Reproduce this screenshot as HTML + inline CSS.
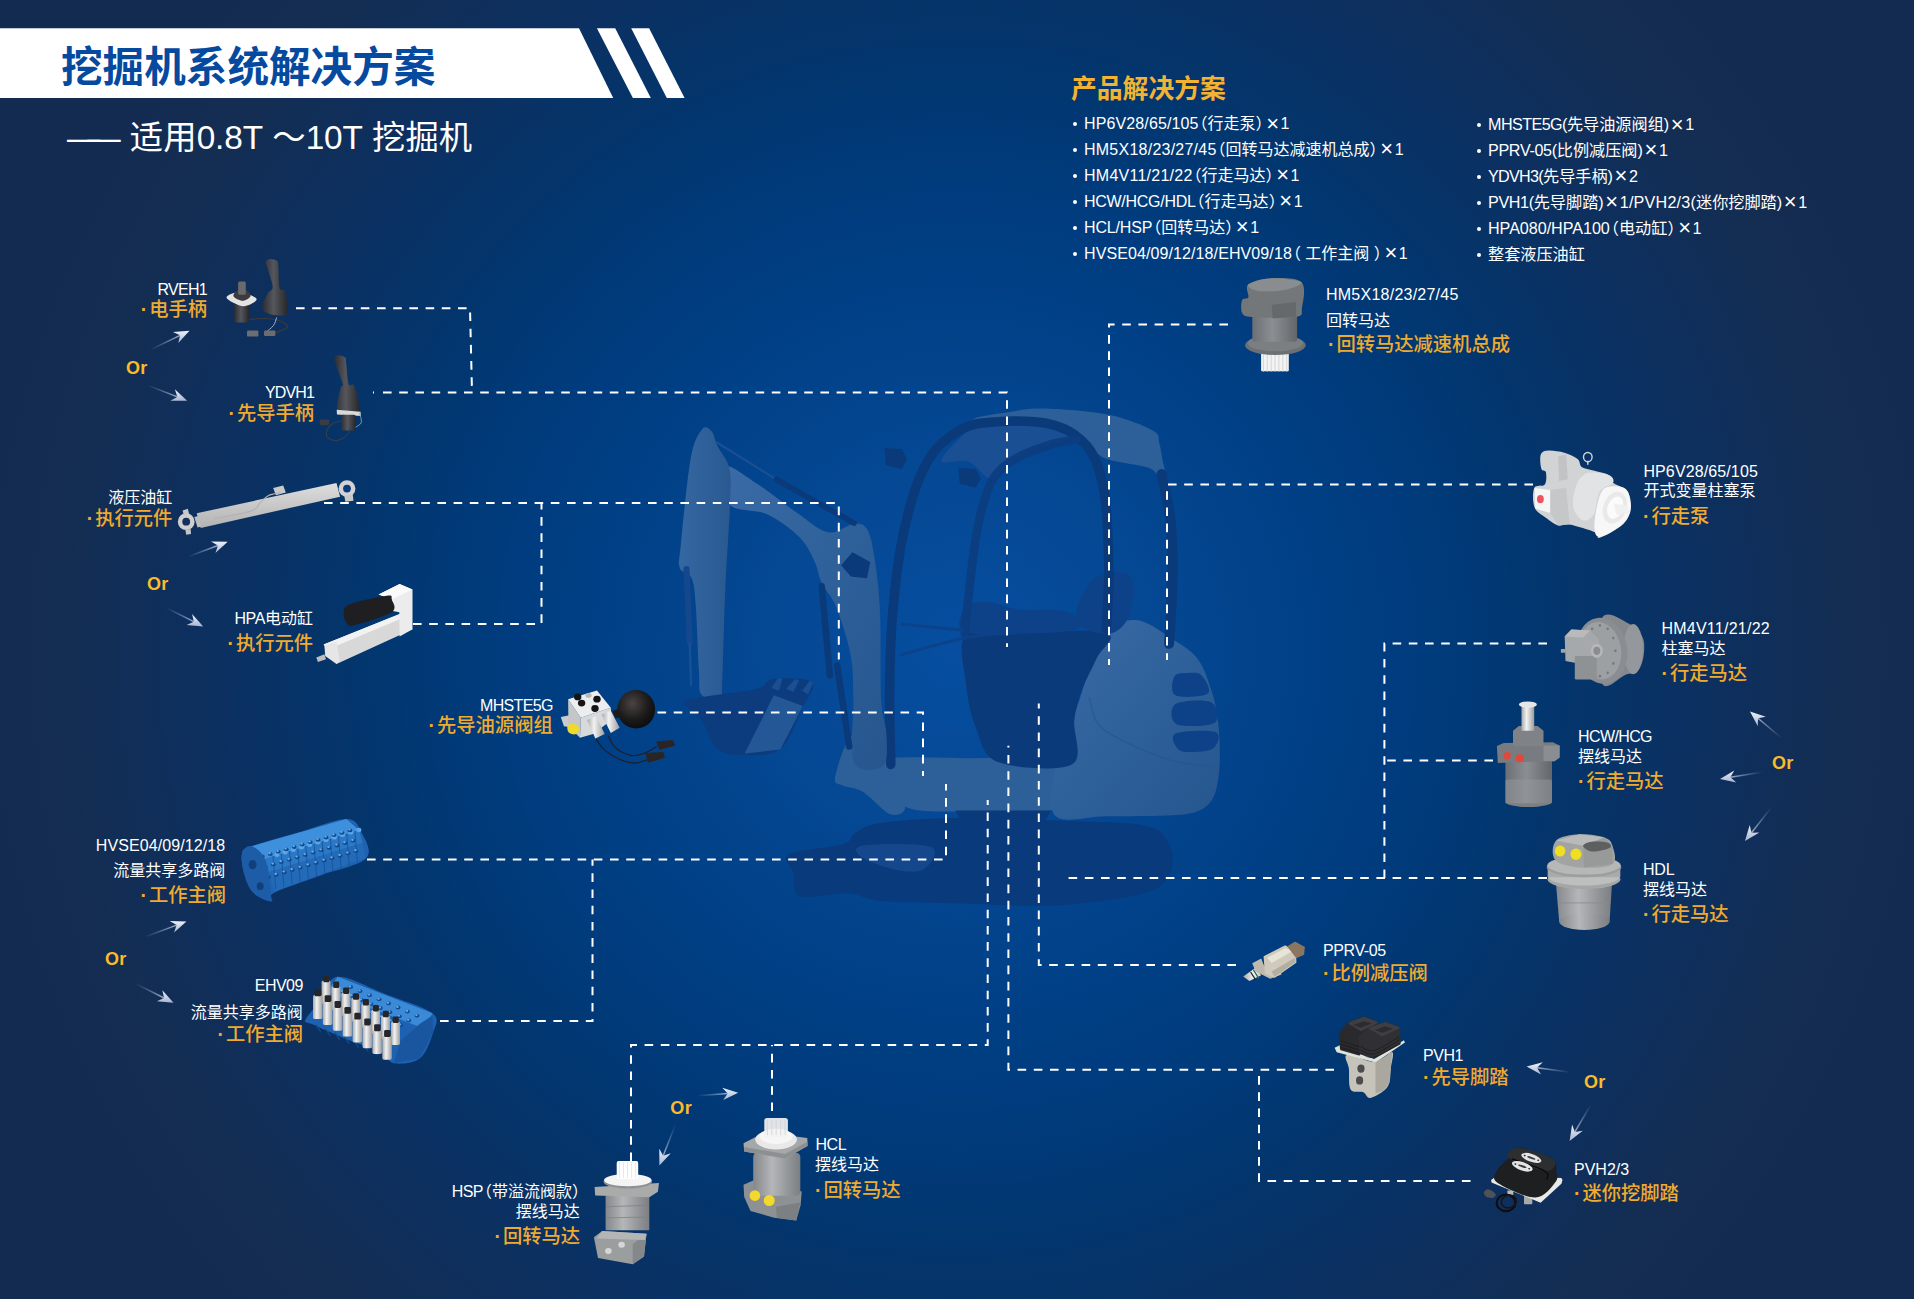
<!DOCTYPE html>
<html lang="zh-CN">
<head>
<meta charset="utf-8">
<title>挖掘机系统解决方案</title>
<style>
html,body{margin:0;padding:0;background:#142b51;}
body{width:1914px;height:1299px;overflow:hidden;font-family:"Liberation Sans","Noto Sans CJK SC",sans-serif;}
#page{position:relative;width:1914px;height:1299px;overflow:hidden;
 background:radial-gradient(circle 1000px at 957px 650px, #064ea0 0%, #054894 18.4%, #004086 35.5%, #003c7e 45.7%, #02366e 59%, #0c3060 74.5%, #142d52 89.7%, #142b51 100%);}
svg.layer{position:absolute;left:0;top:0;width:1914px;height:1299px;overflow:visible}
.t{position:absolute;white-space:nowrap;line-height:0;}
h2 .ds{letter-spacing:-13.2px;margin-right:13.2px}
.t.g .d{font-weight:700;margin-right:2px}
.t.w{font-size:16px;color:#fff;font-weight:400}
.t.g{font-size:19.3px;color:#f0ab2e;font-weight:500}
.t.o{font-size:18px;color:#fbbb2a;font-weight:700}
#banner{position:absolute;left:0;top:28px;width:690px;height:70px}
h1{position:absolute;margin:0;left:61px;top:38.6px;font-size:41.6px;line-height:58px;font-weight:700;color:#054a9f;white-space:nowrap;letter-spacing:0}
h2{position:absolute;margin:0;left:67px;top:114.3px;font-size:33.4px;line-height:48px;font-weight:400;color:#fff;white-space:nowrap}
h3{position:absolute;margin:0;left:1071px;top:71.3px;font-size:25.8px;line-height:36px;font-weight:700;color:#f4b233;white-space:nowrap}
ul.pl{position:absolute;margin:0;padding:0;list-style:none;font-size:16px;color:#fff;line-height:25.9px;white-space:nowrap}
ul.pl li{position:relative;padding-left:11px}
ul.pl li::before{content:"";position:absolute;left:0;top:11px;width:4px;height:4px;border-radius:2px;background:#fff}
span.x{display:inline-block;width:16px;text-align:center;font-size:22px;line-height:0;position:relative;top:1.5px}
span.pl{margin-left:-7px}
span.pr{margin-right:-7px}
</style>
</head>
<body>
<div id="page">


<svg class="layer" id="exc" viewBox="0 0 1914 1299">
<defs><linearGradient id="xl" x1="0" y1="0" x2="1" y2="1"><stop offset="0" stop-color="#3a6ba6"/><stop offset=".55" stop-color="#2d5f98"/><stop offset="1" stop-color="#27568e"/></linearGradient><linearGradient id="xv" x1="0" y1="0" x2="1" y2="0"><stop offset="0" stop-color="#3567a2"/><stop offset="1" stop-color="#295990"/></linearGradient></defs>
<path d="M788.8,854.4 C796.9,849.6 831.6,847.9 842.7,844.3 C853.8,840.8 849.0,836.6 855.2,833.0 C861.5,829.5 863.6,825.5 880.3,823.0 C897.0,820.5 926.3,818.4 955.5,818.0 C984.8,817.6 1024.5,819.2 1055.9,820.5 C1087.2,821.8 1124.8,821.8 1143.6,825.5 C1162.4,829.3 1164.3,835.1 1168.7,843.1 C1173.1,851.0 1174.1,864.8 1170.0,873.2 C1165.8,881.5 1162.7,887.9 1143.6,893.2 C1124.6,898.6 1087.2,903.6 1055.9,905.3 C1024.5,906.9 984.8,904.0 955.5,903.3 C926.3,902.5 898.3,902.4 880.3,900.8 C862.3,899.1 861.1,894.0 847.7,893.2 C834.3,892.5 809.0,899.6 800.1,896.2 C791.1,892.9 795.7,880.1 793.8,873.2 C791.9,866.2 780.6,859.2 788.8,854.4Z" fill="#0a3a7a" opacity=".92"/>
<path d="M862.8,845.6 C874.0,843.7 920.0,843.1 930.5,846.8 C940.9,850.6 930.5,864.2 925.5,868.2 C920.4,872.1 910.8,872.3 900.4,870.7 C889.9,869.0 869.0,862.3 862.8,858.1 C856.5,853.9 851.5,847.5 862.8,845.6Z" fill="#14478c" />
<path d="M835.2,776.6 C836.8,768.3 844.4,741.3 852.7,735.2 C861.1,729.2 878.6,733.1 885.3,740.3 C892.0,747.4 889.5,766.8 892.9,777.9 C896.2,788.9 905.8,800.6 905.4,806.7 C905.0,812.8 897.5,816.7 890.3,814.2 C883.2,811.7 870.7,796.5 862.8,791.7 C854.8,786.9 847.3,787.9 842.7,785.4 C838.1,782.9 833.5,785.0 835.2,776.6Z" fill="#2d5f98" />
<path d="M887.8,759.1 C901.2,755.8 943.4,758.2 970.6,758.3 C997.8,758.4 1037.1,755.3 1050.8,759.8 C1064.6,764.3 1053.1,777.0 1053.4,785.4 C1053.6,793.8 1064.2,805.7 1052.1,810.0 C1040.0,814.2 1002.6,810.9 980.6,811.0 C958.7,811.1 934.2,812.2 920.4,810.5 C906.6,808.7 902.9,805.9 897.9,800.4 C892.9,795.0 892.0,784.8 890.3,777.9 C888.7,771.0 874.5,762.3 887.8,759.1Z" fill="#2d5f98" />
<polygon points="955.5,810.5 1050.8,810.5 1045.8,820.5 960.6,820.5" fill="#0a3a7a" />
<path d="M1106.3,630.3 C1111.6,622.1 1114.9,623.1 1121.1,621.7 C1127.2,620.2 1135.0,619.0 1143.3,621.7 C1151.5,624.3 1161.3,631.5 1170.3,637.7 C1179.4,643.8 1190.5,649.4 1197.4,658.6 C1204.4,667.9 1208.7,682.0 1212.2,693.1 C1215.7,704.2 1217.1,713.2 1218.4,725.1 C1219.6,737.0 1220.2,753.0 1219.6,764.5 C1219.0,776.0 1217.6,786.7 1214.7,794.1 C1211.8,801.5 1208.9,805.4 1202.4,808.9 C1195.8,812.4 1191.3,813.8 1175.3,815.0 C1159.3,816.3 1126.2,816.1 1106.3,816.3 C1086.4,816.5 1064.4,824.1 1055.8,816.3 C1047.2,808.5 1051.5,786.3 1054.6,769.5 C1057.7,752.6 1068.5,731.7 1074.3,715.3 C1080.0,698.9 1083.7,685.1 1089.1,670.9 C1094.4,656.8 1101.0,638.5 1106.3,630.3Z" fill="url(#xl)" />
<path d="M1174.4,676.4 C1176.6,672.7 1184.0,673.3 1188.4,673.1 C1192.9,673.0 1198.1,671.9 1201.4,675.3 C1204.6,678.7 1212.2,690.3 1207.8,693.6 C1203.5,697.0 1181.1,698.2 1175.5,695.3 C1169.9,692.5 1172.3,680.1 1174.4,676.4Z" fill="#0d4188" />
<path d="M1175.5,704.0 C1181.3,700.3 1204.5,699.1 1211.1,702.2 C1217.6,705.4 1220.5,719.1 1214.7,722.7 C1209.0,726.4 1183.1,727.3 1176.6,724.2 C1170.1,721.1 1169.8,707.6 1175.5,704.0Z" fill="#0d4188" />
<path d="M1175.5,733.5 C1181.6,730.5 1208.9,729.6 1215.4,732.0 C1221.9,734.3 1217.4,744.2 1214.3,747.5 C1211.3,750.8 1203.0,751.5 1197.1,751.8 C1191.1,752.2 1182.3,752.7 1178.8,749.7 C1175.2,746.6 1169.4,736.4 1175.5,733.5Z" fill="#0d4188" />
<path d="M1089.3,697.9 C1090.7,702.2 1092.2,716.6 1097.9,723.8 C1103.7,731.0 1111.6,734.9 1123.8,741.0 C1136.0,747.1 1155.8,756.1 1171.2,760.4 C1186.7,764.7 1208.9,765.8 1216.5,766.9" stroke="#27568e" stroke-width="1.2" fill="none" stroke-linecap="round" stroke-linejoin="round" opacity="0.8"/>
<path d="M965.9,635.2 C974.5,626.8 994.2,633.2 1017.6,632.8 C1041.0,632.3 1093.2,628.4 1106.3,632.8 C1119.4,637.1 1100.6,649.0 1096.5,658.6 C1092.3,668.3 1085.4,680.4 1081.7,690.6 C1078.0,700.9 1075.9,707.9 1074.3,720.2 C1072.6,732.5 1084.5,757.6 1071.8,764.5 C1059.1,771.5 1013.9,768.2 997.9,762.1 C981.9,755.9 981.1,740.7 975.8,727.6 C970.4,714.4 967.6,698.6 965.9,683.3 C964.3,667.9 957.3,643.6 965.9,635.2Z" fill="#0a3a7a" />
<path d="M1076.7,621.7 C1073.5,613.9 1081.7,595.2 1086.6,587.2 C1091.5,579.2 1099.3,575.7 1106.3,573.6 C1113.3,571.6 1124.0,571.8 1128.5,574.9 C1133.0,578.0 1133.8,584.3 1133.4,592.1 C1133.0,599.9 1130.5,614.7 1126.0,621.7 C1121.5,628.7 1114.5,634.0 1106.3,634.0 C1098.1,634.0 1080.0,629.5 1076.7,621.7Z" fill="#0d4188" />
<path d="M963.4,631.5 C954.8,627.0 961.8,611.8 965.9,606.9 C970.0,602.0 979.5,601.6 988.1,602.0 C996.7,602.4 1004.5,607.7 1017.6,609.4 C1030.8,611.0 1057.0,608.5 1066.9,611.8 C1076.7,615.1 1085.0,625.4 1076.7,629.1 C1068.5,632.8 1036.5,633.6 1017.6,634.0 C998.8,634.4 972.1,636.0 963.4,631.5Z" fill="#0d4188" />
<path d="M941.3,461.6 C939.6,457.9 952.4,445.4 958.5,439.4 C964.7,433.5 969.2,428.7 978.2,425.9 C987.3,423.1 1001.2,422.9 1012.7,422.7 C1024.2,422.5 1036.9,422.5 1047.2,424.6 C1057.5,426.8 1076.7,431.6 1074.3,435.7 C1071.8,439.8 1043.5,444.5 1032.4,449.3 C1021.3,454.0 1014.8,459.1 1007.8,464.0 C1000.8,469.0 997.1,479.2 990.5,478.8 C984.0,478.4 976.6,464.4 968.4,461.6 C960.2,458.7 942.9,465.3 941.3,461.6Z" fill="#1a5093" />
<path d="M974.5,418.5 C979.0,416.2 996.5,414.0 1007.8,412.3 C1019.1,410.7 1025.4,408.2 1042.3,408.6 C1059.1,409.0 1090.3,411.1 1108.8,414.8 C1127.2,418.5 1144.7,426.1 1153.1,430.8 C1161.5,435.5 1157.5,437.6 1159.3,443.1 C1161.0,448.6 1162.0,457.7 1163.4,464.0 C1164.9,470.4 1168.6,479.1 1167.9,481.3 C1167.2,483.4 1162.5,479.1 1159.3,476.8 C1156.0,474.6 1156.2,470.5 1148.2,467.7 C1140.2,465.0 1119.9,462.8 1111.2,460.3 C1102.6,457.9 1102.2,456.9 1096.5,453.0 C1090.7,449.1 1085.0,441.7 1076.7,436.9 C1068.5,432.2 1057.9,427.0 1047.2,424.6 C1036.5,422.2 1023.8,422.4 1012.7,422.7 C1001.6,422.9 987.1,426.8 980.7,426.1 C974.3,425.4 970.0,420.8 974.5,418.5Z" fill="#2d5f98" />
<path d="M890.8,764.5 C890.6,753.0 889.4,719.4 889.6,695.6 C889.8,671.8 890.2,646.3 892.0,621.7 C893.9,597.0 896.7,570.0 900.6,547.8 C904.5,525.6 909.9,504.7 915.4,488.7 C921.0,472.7 926.7,461.4 933.9,451.7 C941.1,442.1 951.1,435.5 958.5,430.8 C965.9,426.1 974.9,424.6 978.2,423.4" stroke="#0a3a7a" stroke-width="9.5" fill="none" stroke-linecap="round" stroke-linejoin="round" opacity="1"/>
<path d="M978.2,423.4 C984.0,423.0 1001.2,420.9 1012.7,420.9 C1024.2,420.9 1036.9,421.1 1047.2,423.4 C1057.5,425.7 1066.5,428.9 1074.3,434.5 C1082.1,440.0 1088.9,446.0 1094.0,456.7 C1099.1,467.3 1102.6,479.2 1105.1,498.5 C1107.5,517.8 1108.6,550.7 1108.8,572.4 C1109.0,594.2 1106.7,619.6 1106.3,629.1" stroke="#0a3a7a" stroke-width="9.5" fill="none" stroke-linecap="round" stroke-linejoin="round" opacity="1"/>
<path d="M964.7,634.0 C966.5,618.0 971.5,563.0 975.8,537.9 C980.1,512.9 984.4,496.7 990.5,483.7 C996.7,470.8 1003.3,466.7 1012.7,460.3 C1022.2,454.0 1036.5,449.1 1047.2,445.6 C1057.9,442.1 1071.8,440.4 1076.7,439.4" stroke="#0c3d80" stroke-width="8.5" fill="none" stroke-linecap="round" stroke-linejoin="round" opacity="0.95"/>
<path d="M1161.7,473.9 C1163.2,482.1 1169.1,504.7 1170.8,523.2 C1172.6,541.6 1172.6,564.6 1172.3,584.7 C1172.0,604.8 1169.6,634.0 1169.1,643.8" stroke="#0a3a7a" stroke-width="10.0" fill="none" stroke-linecap="round" stroke-linejoin="round" opacity="1"/>
<path d="M901.9,624.1 C912.1,625.2 953.2,629.3 963.4,630.3" stroke="#0d4188" stroke-width="3.0" fill="none" stroke-linecap="round" stroke-linejoin="round" opacity="0.9"/>
<path d="M900.6,654.9 C911.5,652.1 946.4,641.4 965.9,637.7 C985.4,634.0 1009.0,633.6 1017.6,632.8" stroke="#0d4188" stroke-width="3.0" fill="none" stroke-linecap="round" stroke-linejoin="round" opacity="0.9"/>
<polygon points="884.6,448.0 901.9,449.3 906.8,459.1 901.9,469.0 885.9,465.3" fill="#0a3a7a" />
<polygon points="958.5,467.7 975.8,469.0 980.7,478.8 975.8,487.4 959.8,483.7" fill="#0a3a7a" />
<path d="M724.7,466.6 C729.3,463.1 745.2,476.2 757.0,483.7 C768.9,491.3 784.0,503.8 795.8,511.9 C807.7,520.0 818.5,530.3 828.2,532.3 C837.9,534.2 847.6,524.4 854.0,523.8 C860.5,523.3 863.6,523.7 867.0,529.0 C870.3,534.3 871.9,542.0 874.1,555.5 C876.3,569.1 878.7,586.3 879.9,610.5 C881.1,634.8 880.1,680.6 881.2,701.1 C882.3,721.6 886.1,722.6 886.4,733.4 C886.7,744.2 888.5,760.9 883.2,765.8 C877.8,770.6 859.0,773.3 854.0,762.5 C849.1,751.7 853.9,718.9 853.4,701.1 C852.9,683.3 853.7,671.4 850.8,655.8 C848.0,640.2 841.1,619.4 836.3,607.3 C831.4,595.2 825.3,590.7 821.7,583.0 C818.1,575.4 818.4,569.1 814.6,561.4 C810.8,553.7 807.0,544.6 799.1,536.8 C791.1,528.9 778.3,519.5 766.7,514.1 C755.1,508.7 736.5,512.4 729.5,504.4 C722.5,496.5 720.1,470.0 724.7,466.6Z" fill="url(#xl)" />
<path d="M702.0,429.4 C705.5,424.9 709.2,428.5 711.7,431.3 C714.3,434.1 714.6,440.0 717.6,446.2 C720.5,452.5 727.5,458.7 729.5,468.9 C731.6,479.0 730.6,487.2 729.9,507.0 C729.2,526.9 726.6,558.2 725.3,587.9 C724.0,617.5 723.0,666.5 722.1,684.9 C721.2,703.3 723.6,696.9 720.2,698.5 C716.7,700.1 705.0,699.6 701.4,694.6 C697.8,689.6 700.1,687.1 698.8,668.7 C697.5,650.4 696.8,601.4 693.6,584.6 C690.5,567.9 682.2,574.9 680.1,568.5 C677.9,562.0 678.9,564.2 680.7,545.8 C682.5,527.5 687.2,477.9 690.7,458.5 C694.3,439.1 698.5,433.9 702.0,429.4Z" fill="url(#xv)" />
<path d="M716.6,442.3 C726.6,448.5 766.5,473.3 776.4,479.5" stroke="#1a5093" stroke-width="2.2" fill="none" stroke-linecap="round" stroke-linejoin="round" opacity="1"/>
<path d="M776.4,479.5 C789.4,486.8 841.1,515.9 854.0,523.2" stroke="#0a3a7a" stroke-width="5.5" fill="none" stroke-linecap="round" stroke-linejoin="round" opacity="1"/>
<path d="M686.5,569.1 C687.1,581.4 689.2,630.6 689.8,642.9" stroke="#14478c" stroke-width="6.0" fill="none" stroke-linecap="round" stroke-linejoin="round" opacity="1"/>
<path d="M689.8,642.9 C690.0,649.9 690.8,677.9 691.0,684.9" stroke="#1a5093" stroke-width="2.5" fill="none" stroke-linecap="round" stroke-linejoin="round" opacity="1"/>
<path d="M821.7,586.3 C823.1,601.1 828.4,660.4 829.8,675.2" stroke="#0a3a7a" stroke-width="6.5" fill="none" stroke-linecap="round" stroke-linejoin="round" opacity="1"/>
<path d="M837.2,665.5 C839.2,679.0 847.2,732.9 849.2,746.4" stroke="#0a3a7a" stroke-width="6.5" fill="none" stroke-linecap="round" stroke-linejoin="round" opacity="1"/>
<polygon points="841.1,565.2 852.4,552.3 870.2,562.0 867.0,578.2 850.8,576.6" fill="#0a3a7a" />
<path d="M684.3,702.7 C684.3,698.8 689.9,699.5 702.0,697.2 C714.2,694.9 745.2,691.8 757.0,688.8 C768.9,685.8 764.0,680.2 773.2,679.1 C782.4,678.0 807.2,677.5 812.0,682.3 C816.9,687.2 807.7,697.0 802.3,708.2 C796.9,719.4 790.4,741.8 779.7,749.6 C768.9,757.3 748.4,755.3 737.6,754.8 C726.8,754.2 720.9,752.1 715.0,746.4 C709.1,740.6 707.2,727.8 702.0,720.5 C696.9,713.2 684.3,706.6 684.3,702.7Z" fill="#0c3c7e" />
<polygon points="773.8,695.3 802.9,705.9 780.3,749.6 744.7,753.5" fill="#245796" />
<polygon points="771.6,688.1 778.0,677.8 782.3,679.1 779.0,690.7" fill="#1a5093" />
<polygon points="786.1,688.8 795.2,679.1 799.1,680.4 793.2,692.0" fill="#1a5093" />
<polygon points="802.3,690.7 809.4,681.0 813.3,682.3 808.1,694.6" fill="#1a5093" />
</svg>
<svg class="layer" id="lines" viewBox="0 0 1914 1299">
<g fill="none" stroke="#fff" stroke-width="2" stroke-dasharray="8.6 7.6">
<path d="M296,308.3 H470 L472,392.4"/>
<path d="M373,392.4 h1 M383,392.4 H1007 V647"/>
<path d="M324,503 H838.8 V659.5"/>
<path d="M413,624 H541.5 V503"/>
<path d="M657.5,712.5 H923 V776"/>
<path d="M367,859.5 H946 V784"/>
<path d="M440,1021 H592.5 V859.5"/>
<path d="M631,1161 V1045 H987.7 V800"/>
<path d="M772,1111 V1045"/>
<path d="M1228,324.5 H1109 V665"/>
<path d="M1533,484.6 H1167 V660"/>
<path d="M1547,643.4 H1384.4 V878"/>
<path d="M1493,760.4 H1384.4"/>
<path d="M1547,878 H1063.7"/>
<path d="M1236,965 H1038.8 V703.6"/>
<path d="M1334,1069.8 H1008.4 V745.7"/>
<path d="M1470.5,1181 H1259 V1070"/>
</g>
<defs><linearGradient id="ah" x1="0" y1="0" x2="0" y2="1"><stop offset="0" stop-color="#eef2f9"/><stop offset="1" stop-color="#a9b6d2"/></linearGradient><linearGradient id="ag0" gradientUnits="userSpaceOnUse" x1="149.7" y1="350.1" x2="189.5" y2="330.7"><stop offset="0" stop-color="#9fb0d6" stop-opacity="0"/><stop offset="1" stop-color="#dbe2f0"/></linearGradient><linearGradient id="ag1" gradientUnits="userSpaceOnUse" x1="147.3" y1="385.1" x2="187.1" y2="400.7"><stop offset="0" stop-color="#9fb0d6" stop-opacity="0"/><stop offset="1" stop-color="#dbe2f0"/></linearGradient><linearGradient id="ag2" gradientUnits="userSpaceOnUse" x1="188.0" y1="556.7" x2="227.7" y2="541.8"><stop offset="0" stop-color="#9fb0d6" stop-opacity="0"/><stop offset="1" stop-color="#dbe2f0"/></linearGradient><linearGradient id="ag3" gradientUnits="userSpaceOnUse" x1="165.8" y1="607.6" x2="203.2" y2="626.4"><stop offset="0" stop-color="#9fb0d6" stop-opacity="0"/><stop offset="1" stop-color="#dbe2f0"/></linearGradient><linearGradient id="ag4" gradientUnits="userSpaceOnUse" x1="144.8" y1="937.0" x2="186.4" y2="921.4"><stop offset="0" stop-color="#9fb0d6" stop-opacity="0"/><stop offset="1" stop-color="#dbe2f0"/></linearGradient><linearGradient id="ag5" gradientUnits="userSpaceOnUse" x1="135.5" y1="983.7" x2="173.5" y2="1002.7"><stop offset="0" stop-color="#9fb0d6" stop-opacity="0"/><stop offset="1" stop-color="#dbe2f0"/></linearGradient><linearGradient id="ag6" gradientUnits="userSpaceOnUse" x1="697.3" y1="1095.8" x2="738.2" y2="1092.7"><stop offset="0" stop-color="#9fb0d6" stop-opacity="0"/><stop offset="1" stop-color="#dbe2f0"/></linearGradient><linearGradient id="ag7" gradientUnits="userSpaceOnUse" x1="675.5" y1="1124.5" x2="659.4" y2="1165.5"><stop offset="0" stop-color="#9fb0d6" stop-opacity="0"/><stop offset="1" stop-color="#dbe2f0"/></linearGradient><linearGradient id="ag8" gradientUnits="userSpaceOnUse" x1="1782.0" y1="738.5" x2="1750.0" y2="711.5"><stop offset="0" stop-color="#9fb0d6" stop-opacity="0"/><stop offset="1" stop-color="#dbe2f0"/></linearGradient><linearGradient id="ag9" gradientUnits="userSpaceOnUse" x1="1763.0" y1="772.0" x2="1720.0" y2="779.0"><stop offset="0" stop-color="#9fb0d6" stop-opacity="0"/><stop offset="1" stop-color="#dbe2f0"/></linearGradient><linearGradient id="ag10" gradientUnits="userSpaceOnUse" x1="1772.0" y1="806.6" x2="1745.0" y2="841.0"><stop offset="0" stop-color="#9fb0d6" stop-opacity="0"/><stop offset="1" stop-color="#dbe2f0"/></linearGradient><linearGradient id="ag11" gradientUnits="userSpaceOnUse" x1="1570.5" y1="1072.3" x2="1526.6" y2="1066.4"><stop offset="0" stop-color="#9fb0d6" stop-opacity="0"/><stop offset="1" stop-color="#dbe2f0"/></linearGradient><linearGradient id="ag12" gradientUnits="userSpaceOnUse" x1="1591.0" y1="1104.5" x2="1569.6" y2="1141.0"><stop offset="0" stop-color="#9fb0d6" stop-opacity="0"/><stop offset="1" stop-color="#dbe2f0"/></linearGradient></defs>
<path d="M149.7,350.1 L180.1,335.3" stroke="url(#ag0)" stroke-width="1.5" fill="none"/>
<polygon points="189.5,330.7 178.3,343.1 180.1,335.3 172.9,331.9" fill="url(#ah)"/>
<path d="M147.3,385.1 L177.3,396.9" stroke="url(#ag1)" stroke-width="1.5" fill="none"/>
<polygon points="187.1,400.7 170.4,400.8 177.3,396.9 174.9,389.3" fill="url(#ah)"/>
<path d="M188.0,556.7 L217.9,545.5" stroke="url(#ag2)" stroke-width="1.5" fill="none"/>
<polygon points="227.7,541.8 215.4,553.1 217.9,545.5 211.0,541.4" fill="url(#ah)"/>
<path d="M165.8,607.6 L193.8,621.7" stroke="url(#ag3)" stroke-width="1.5" fill="none"/>
<polygon points="203.2,626.4 186.6,625.0 193.8,621.7 192.1,613.9" fill="url(#ah)"/>
<path d="M144.8,937.0 L176.6,925.1" stroke="url(#ag4)" stroke-width="1.5" fill="none"/>
<polygon points="186.4,921.4 174.1,932.6 176.6,925.1 169.7,921.0" fill="url(#ah)"/>
<path d="M135.5,983.7 L164.1,998.0" stroke="url(#ag5)" stroke-width="1.5" fill="none"/>
<polygon points="173.5,1002.7 156.9,1001.3 164.1,998.0 162.4,990.2" fill="url(#ah)"/>
<path d="M697.3,1095.8 L727.7,1093.5" stroke="url(#ag6)" stroke-width="1.5" fill="none"/>
<polygon points="738.2,1092.7 723.2,1100.1 727.7,1093.5 722.3,1087.7" fill="url(#ah)"/>
<path d="M675.5,1124.5 L663.2,1155.7" stroke="url(#ag7)" stroke-width="1.5" fill="none"/>
<polygon points="659.4,1165.5 659.3,1148.8 663.2,1155.7 670.8,1153.3" fill="url(#ah)"/>
<path d="M1782.0,738.5 L1758.0,718.3" stroke="url(#ag8)" stroke-width="1.5" fill="none"/>
<polygon points="1750.0,711.5 1765.8,716.8 1758.0,718.3 1757.8,726.2" fill="url(#ah)"/>
<path d="M1763.0,772.0 L1730.4,777.3" stroke="url(#ag9)" stroke-width="1.5" fill="none"/>
<polygon points="1720.0,779.0 1734.3,770.4 1730.4,777.3 1736.3,782.6" fill="url(#ah)"/>
<path d="M1772.0,806.6 L1751.5,832.7" stroke="url(#ag10)" stroke-width="1.5" fill="none"/>
<polygon points="1745.0,841.0 1749.7,825.0 1751.5,832.7 1759.4,832.6" fill="url(#ah)"/>
<path d="M1570.5,1072.3 L1537.0,1067.8" stroke="url(#ag11)" stroke-width="1.5" fill="none"/>
<polygon points="1526.6,1066.4 1542.8,1062.3 1537.0,1067.8 1541.1,1074.6" fill="url(#ah)"/>
<path d="M1591.0,1104.5 L1574.9,1131.9" stroke="url(#ag12)" stroke-width="1.5" fill="none"/>
<polygon points="1569.6,1141.0 1572.1,1124.5 1574.9,1131.9 1582.8,1130.8" fill="url(#ah)"/>
</svg>
<svg class="layer" id="prod" viewBox="0 0 1914 1299">
<defs>
<linearGradient id="gDk" x1="0" y1="0" x2="1" y2="0"><stop offset="0" stop-color="#2b2c30"/><stop offset=".45" stop-color="#55575d"/><stop offset="1" stop-color="#26272a"/></linearGradient>
<linearGradient id="gGy" x1="0" y1="0" x2="1" y2="0"><stop offset="0" stop-color="#85888c"/><stop offset=".4" stop-color="#b4b6b8"/><stop offset="1" stop-color="#7b7e82"/></linearGradient>
<linearGradient id="gGy2" x1="0" y1="0" x2="1" y2="0"><stop offset="0" stop-color="#6c6f73"/><stop offset=".45" stop-color="#8b8e92"/><stop offset="1" stop-color="#63666a"/></linearGradient>
<linearGradient id="gLt" x1="0" y1="0" x2="0" y2="1"><stop offset="0" stop-color="#dedede"/><stop offset="1" stop-color="#b2b2b2"/></linearGradient>
<linearGradient id="gSv" x1="0" y1="0" x2="1" y2="0"><stop offset="0" stop-color="#a9a9a9"/><stop offset=".4" stop-color="#f2f2f2"/><stop offset="1" stop-color="#9c9c9c"/></linearGradient>
<linearGradient id="gBl" x1="0" y1="0" x2="0" y2="1"><stop offset="0" stop-color="#3b8ad6"/><stop offset="1" stop-color="#1a5aa6"/></linearGradient>
<radialGradient id="gBall" cx=".4" cy=".35" r=".7"><stop offset="0" stop-color="#4a4442"/><stop offset=".6" stop-color="#1c1a1a"/><stop offset="1" stop-color="#0c0c0c"/></radialGradient>
</defs>
<g id="joysticks">
<path d="M245.8,319.6 C249.1,319.4 260.2,318.3 265.8,318.5 C271.5,318.7 276.1,319.4 279.7,320.8 C283.3,322.2 287.9,325.1 287.4,327.0 C286.9,328.9 278.4,331.5 276.6,332.4" fill="none" stroke="#3a3a3c" stroke-width="1.2" stroke-linecap="round" stroke-linejoin="round" />
<path d="M276.6,317.8 C276.1,319.0 275.3,323.0 273.5,325.5 C271.7,327.9 267.1,331.2 265.8,332.4" fill="none" stroke="#9fb0c8" stroke-width="1.0" stroke-linecap="round" stroke-linejoin="round" />
<rect x="247.0" y="330.4" width="11.4" height="6.2" rx="1.2" fill="#6b6d70" />
<rect x="264.0" y="330.4" width="11.4" height="5.5" rx="1.2" fill="#6b6d70" />
<rect x="234.2" y="301.6" width="14.9" height="20.8" rx="2.2" fill="url(#gDk)" />
<path d="M226.5,297.7 C225.9,295.4 234.6,292.1 239.6,292.3 C244.6,292.6 255.9,296.7 256.6,299.0 C257.2,301.3 248.5,306.4 243.5,306.2 C238.5,306.0 227.2,300.0 226.5,297.7Z" fill="#e4e4e2" />
<path d="M233.5,296.2 C232.7,294.5 235.9,291.3 238.1,290.3 C240.3,289.4 244.5,289.4 246.6,290.3 C248.6,291.3 251.1,294.5 250.4,296.2 C249.8,297.9 245.5,300.8 242.7,300.8 C239.9,300.8 234.2,297.9 233.5,296.2Z" fill="#3c3c40" />
<rect x="238.1" y="281.6" width="7.7" height="13.1" rx="1.5" fill="#6a6a6c" />
<path d="M265.8,261.5 C266.2,259.7 268.5,259.0 270.4,258.9 C272.4,258.9 276.0,259.8 277.4,261.1 C278.7,262.4 278.1,262.4 278.4,266.9 C278.8,271.5 278.6,284.5 279.7,288.5 C280.8,292.5 283.8,287.0 285.1,290.8 C286.3,294.7 287.8,307.5 287.4,311.6 C287.0,315.7 285.3,314.9 282.8,315.4 C280.2,316.0 275.2,315.4 272.0,314.7 C268.8,313.9 265.0,312.6 263.5,310.8 C262.0,309.0 262.0,306.8 262.7,303.9 C263.5,300.9 266.5,295.9 268.1,293.1 C269.8,290.3 272.7,290.8 272.7,287.0 C272.7,283.1 269.3,274.3 268.1,270.0 C267.0,265.8 265.4,263.4 265.8,261.5Z" fill="url(#gDk)" />
<path d="M334.3,357.8 C334.6,355.8 336.4,355.4 338.2,355.3 C340.0,355.3 343.8,356.2 345.1,357.5 C346.5,358.8 345.6,358.8 346.2,363.2 C346.8,367.6 347.3,380.1 348.7,384.0 C350.0,387.8 352.5,381.8 354.4,386.3 C356.2,390.8 360.4,406.3 359.7,410.9 C359.1,415.5 354.2,414.1 350.5,414.0 C346.8,413.9 339.1,414.4 337.4,410.1 C335.8,405.9 339.6,393.0 340.5,388.6 C341.4,384.2 343.5,387.6 342.8,384.0 C342.2,380.4 338.1,371.4 336.7,367.0 C335.2,362.7 334.1,359.7 334.3,357.8Z" fill="url(#gDk)" />
<polygon points="336.7,409.8 360.5,411.7 361.0,416.0 337.0,414.5" fill="#d9d9d6" />
<rect x="341.0" y="414.8" width="14.5" height="15.7" rx="1.5" fill="url(#gDk)" />
<path d="M341.3,420.9 C339.7,421.4 334.5,422.2 332.0,424.0 C329.6,425.8 327.2,429.3 326.6,431.7 C326.1,434.1 327.0,437.2 329.0,438.6 C330.9,440.0 335.1,440.8 338.2,440.2 C341.3,439.5 345.5,436.6 347.4,434.8 C349.4,433.0 349.4,430.3 349.7,429.4" fill="none" stroke="#3a3d45" stroke-width="1.1" stroke-linecap="round" stroke-linejoin="round" />
<path d="M359.7,413.2 C360.0,414.8 361.9,420.2 361.3,422.5 C360.6,424.8 356.8,426.3 355.9,427.1" fill="none" stroke="#8ea0bc" stroke-width="0.9" stroke-linecap="round" stroke-linejoin="round" />
<rect x="319.7" y="419.4" width="9.5" height="5.5" rx="1.2" fill="#3c3d42" />
</g>
<g id="cylinders">
<ellipse cx="186.2" cy="521.7" rx="8.4" ry="8.4" fill="#cfcfcf" />
<ellipse cx="186.2" cy="521.7" rx="3.9" ry="3.9" fill="#16305e" />
<polygon points="182.6,510.4 187.8,508.8 189.1,514.0 183.9,515.3" fill="#c8c8c8" />
<polygon points="185.4,530.1 190.7,528.9 191.0,533.9 186.2,534.7" fill="#c4c4c4" />
<ellipse cx="347.0" cy="488.6" rx="8.4" ry="8.4" fill="#d2d2d2" />
<ellipse cx="347.0" cy="488.6" rx="3.9" ry="3.9" fill="#0b3b7c" />
<polygon points="344.3,495.9 352.7,494.3 353.5,500.7 345.4,501.7" fill="#c8c8c8" />
<polygon points="196.7,513.3 336.5,482.9 340.1,496.7 200.7,527.9" fill="url(#gLt)" />
<polygon points="194.3,516.9 198.3,515.9 201.5,526.6 197.5,527.6" fill="#bdbdbd" />
<polygon points="273.2,488.1 283.2,485.4 285.8,492.6 275.9,495.2" fill="#c9c9c9" />
<path d="M215.3,518.5 C221.2,517.3 243.3,513.9 250.8,511.2 C258.4,508.5 257.6,505.0 260.5,502.3 C263.5,499.7 265.4,497.2 268.6,495.5 C271.9,493.9 278.1,493.1 279.9,492.6" fill="none" stroke="#b4b4b4" stroke-width="1.3" stroke-linecap="round" stroke-linejoin="round" />
<polygon points="323.6,644.6 399.6,613.9 412.5,629.3 336.5,664.0" fill="#d8d8d8" />
<polygon points="323.6,644.6 399.6,613.9 402.8,617.9 327.6,649.5" fill="#f2f2f2" />
<polygon points="378.6,594.5 399.6,584.0 412.5,589.6 412.5,629.3 399.6,636.5 399.3,612.3 391.5,610.7 391.8,599.3" fill="#ececec" />
<polygon points="378.6,594.5 399.6,584.0 412.5,589.6 391.8,599.3" fill="#fafafa" />
<path d="M343.8,613.1 C344.3,610.1 342.3,607.4 349.5,604.5 C356.6,601.6 379.6,596.6 386.7,595.8 C393.7,595.0 391.0,596.9 391.8,599.7 C392.6,602.4 397.8,608.0 391.5,612.3 C385.3,616.5 361.9,623.5 354.3,625.2 C346.8,626.9 348.0,624.3 346.2,622.3 C344.5,620.3 343.3,616.1 343.8,613.1Z" fill="#1f1f21" />
<polygon points="316.3,657.6 324.4,654.3 326.0,659.2 317.9,662.1" fill="#bdbdbd" />
<polygon points="324.4,645.4 336.5,641.4 339.8,660.8 336.5,664.0 325.2,655.9" fill="#e6e6e6" />
</g>
<g id="mhste5g">
<path d="M596.2,739.3 C597.5,740.9 600.0,745.9 603.9,749.3 C607.7,752.6 614.2,757.0 619.3,759.3 C624.4,761.6 630.2,763.0 634.7,763.1 C639.2,763.3 644.3,760.6 646.2,760.1" fill="none" stroke="#1e1e20" stroke-width="1.1" stroke-linecap="round" stroke-linejoin="round" />
<path d="M608.5,736.2 C609.7,738.1 611.7,744.5 615.4,747.7 C619.2,751.0 626.3,754.4 630.8,755.4 C635.3,756.5 638.1,755.3 642.4,753.9 C646.6,752.5 653.9,748.1 656.2,747.0" fill="none" stroke="#1e1e20" stroke-width="1.1" stroke-linecap="round" stroke-linejoin="round" />
<polygon points="656.2,741.6 672.4,740.0 675.5,745.4 659.3,749.7" fill="#2a2522" />
<polygon points="645.5,753.1 663.2,752.0 664.9,757.8 647.8,762.8" fill="#2a2522" />
<polygon points="560.8,717.0 573.1,714.6 574.6,727.7 563.9,726.2" fill="#c9ccce" />
<polygon points="568.1,699.2 580.8,717.7 580.0,737.7 568.5,726.2" fill="#c4c6c8" />
<polygon points="580.8,717.7 610.8,707.7 611.6,720.0 593.1,733.9 580.0,737.7" fill="#d8d9da" />
<polygon points="568.1,699.2 597.0,690.4 610.8,707.7 580.8,717.7" fill="#ecedee" />
<ellipse cx="577.7" cy="696.9" rx="3.7" ry="3.4" fill="#141416" />
<ellipse cx="581.6" cy="703.1" rx="3.7" ry="3.4" fill="#141416" />
<ellipse cx="597.0" cy="699.2" rx="3.7" ry="3.4" fill="#141416" />
<ellipse cx="595.0" cy="708.5" rx="3.7" ry="3.4" fill="#141416" />
<ellipse cx="588.5" cy="695.4" rx="3.1" ry="2.3" fill="#b8b8b4" />
<path d="M567.7,725.4 C568.5,724.1 571.3,723.8 573.1,723.9 C574.9,724.0 577.7,724.6 578.5,726.2 C579.3,727.7 578.7,731.8 577.7,733.1 C576.7,734.5 573.9,734.5 572.3,734.3 C570.7,734.0 568.9,733.1 568.1,731.6 C567.3,730.1 566.9,726.7 567.7,725.4Z" fill="#f0d92a" />
<polygon points="587.0,720.0 596.2,716.2 604.7,733.9 595.4,738.5" fill="url(#gSv)" />
<polygon points="601.6,714.6 610.8,710.8 619.7,727.7 610.8,733.1" fill="url(#gSv)" />
<polygon points="612.4,710.8 617.7,709.3 620.1,717.0 615.4,718.5" fill="#1a1a1a" />
<ellipse cx="636.2" cy="709.3" rx="18.9" ry="19.2" fill="url(#gBall)" />
</g>
<g id="valves">
<path d="M241.9,853.9 C243.0,849.0 242.0,849.9 251.5,846.3 C261.1,842.7 283.1,836.9 299.0,832.3 C314.8,827.8 335.9,819.0 346.4,819.0 C356.8,819.0 358.1,825.8 361.4,832.3 C364.7,838.9 373.0,851.0 366.2,858.2 C359.4,865.4 335.8,869.7 320.5,875.4 C305.2,881.2 282.4,888.3 274.2,892.7 C265.9,897.0 274.4,901.2 270.9,901.3 C267.5,901.3 258.1,897.4 253.7,893.1 C249.3,888.8 246.6,882.0 244.7,875.4 C242.7,868.9 240.7,858.7 241.9,853.9Z" fill="#1f62b0" />
<polygon points="251.5,846.3 346.4,819.0 359.3,830.2 264.5,859.3" fill="#3f90dc" />
<polygon points="264.5,859.3 359.3,830.2 362.5,843.1 268.8,872.2" fill="#2b78c6" />
<polygon points="268.8,872.2 362.5,843.1 365.7,857.7 274.2,891.6" fill="#236bb8" />
<path d="M273.1,856.5 C273.5,861.8 275.2,883.4 275.7,888.8" fill="none" stroke="#174f92" stroke-width="0.8" stroke-linecap="round" stroke-linejoin="round" />
<ellipse cx="277.0" cy="854.7" rx="2.6" ry="2.2" fill="#5aa6ea" />
<path d="M281.3,854.0 C281.7,859.4 283.4,880.9 283.9,886.3" fill="none" stroke="#174f92" stroke-width="0.8" stroke-linecap="round" stroke-linejoin="round" />
<ellipse cx="285.2" cy="852.3" rx="2.6" ry="2.2" fill="#5aa6ea" />
<path d="M289.5,851.5 C289.9,856.9 291.6,878.4 292.1,883.8" fill="none" stroke="#174f92" stroke-width="0.8" stroke-linecap="round" stroke-linejoin="round" />
<ellipse cx="293.3" cy="849.8" rx="2.6" ry="2.2" fill="#5aa6ea" />
<path d="M297.7,849.0 C298.1,854.4 299.8,876.0 300.2,881.3" fill="none" stroke="#174f92" stroke-width="0.8" stroke-linecap="round" stroke-linejoin="round" />
<ellipse cx="301.5" cy="847.3" rx="2.6" ry="2.2" fill="#5aa6ea" />
<path d="M305.8,846.5 C306.3,851.9 308.0,873.5 308.4,878.9" fill="none" stroke="#174f92" stroke-width="0.8" stroke-linecap="round" stroke-linejoin="round" />
<ellipse cx="309.7" cy="844.8" rx="2.6" ry="2.2" fill="#5aa6ea" />
<path d="M314.0,844.1 C314.5,849.5 316.2,871.0 316.6,876.4" fill="none" stroke="#174f92" stroke-width="0.8" stroke-linecap="round" stroke-linejoin="round" />
<ellipse cx="317.9" cy="842.3" rx="2.6" ry="2.2" fill="#5aa6ea" />
<path d="M322.2,841.6 C322.7,847.0 324.4,868.5 324.8,873.9" fill="none" stroke="#174f92" stroke-width="0.8" stroke-linecap="round" stroke-linejoin="round" />
<ellipse cx="326.1" cy="839.9" rx="2.6" ry="2.2" fill="#5aa6ea" />
<path d="M330.4,839.1 C330.8,844.5 332.6,866.0 333.0,871.4" fill="none" stroke="#174f92" stroke-width="0.8" stroke-linecap="round" stroke-linejoin="round" />
<ellipse cx="334.3" cy="837.4" rx="2.6" ry="2.2" fill="#5aa6ea" />
<path d="M338.6,836.6 C339.0,842.0 340.8,863.6 341.2,869.0" fill="none" stroke="#174f92" stroke-width="0.8" stroke-linecap="round" stroke-linejoin="round" />
<ellipse cx="342.5" cy="834.9" rx="2.6" ry="2.2" fill="#5aa6ea" />
<path d="M346.8,834.2 C347.2,839.5 348.9,861.1 349.4,866.5" fill="none" stroke="#174f92" stroke-width="0.8" stroke-linecap="round" stroke-linejoin="round" />
<ellipse cx="350.7" cy="832.4" rx="2.6" ry="2.2" fill="#5aa6ea" />
<path d="M355.0,831.7 C355.4,837.1 357.1,858.6 357.6,864.0" fill="none" stroke="#174f92" stroke-width="0.8" stroke-linecap="round" stroke-linejoin="round" />
<ellipse cx="358.9" cy="830.0" rx="2.6" ry="2.2" fill="#5aa6ea" />
<ellipse cx="262.3" cy="856.5" rx="2.4" ry="1.9" fill="#144a8c" />
<ellipse cx="261.7" cy="855.6" rx="1.3" ry="1.1" fill="#62adf0" />
<ellipse cx="270.3" cy="854.1" rx="2.4" ry="1.9" fill="#144a8c" />
<ellipse cx="269.6" cy="853.2" rx="1.3" ry="1.1" fill="#62adf0" />
<ellipse cx="278.3" cy="851.7" rx="2.4" ry="1.9" fill="#144a8c" />
<ellipse cx="277.6" cy="850.9" rx="1.3" ry="1.1" fill="#62adf0" />
<ellipse cx="286.2" cy="849.3" rx="2.4" ry="1.9" fill="#144a8c" />
<ellipse cx="285.6" cy="848.5" rx="1.3" ry="1.1" fill="#62adf0" />
<ellipse cx="294.2" cy="847.0" rx="2.4" ry="1.9" fill="#144a8c" />
<ellipse cx="293.6" cy="846.1" rx="1.3" ry="1.1" fill="#62adf0" />
<ellipse cx="302.2" cy="844.6" rx="2.4" ry="1.9" fill="#144a8c" />
<ellipse cx="301.5" cy="843.7" rx="1.3" ry="1.1" fill="#62adf0" />
<ellipse cx="310.2" cy="842.2" rx="2.4" ry="1.9" fill="#144a8c" />
<ellipse cx="309.5" cy="841.4" rx="1.3" ry="1.1" fill="#62adf0" />
<ellipse cx="318.1" cy="839.9" rx="2.4" ry="1.9" fill="#144a8c" />
<ellipse cx="317.5" cy="839.0" rx="1.3" ry="1.1" fill="#62adf0" />
<ellipse cx="326.1" cy="837.5" rx="2.4" ry="1.9" fill="#144a8c" />
<ellipse cx="325.5" cy="836.6" rx="1.3" ry="1.1" fill="#62adf0" />
<ellipse cx="334.1" cy="835.1" rx="2.4" ry="1.9" fill="#144a8c" />
<ellipse cx="333.4" cy="834.3" rx="1.3" ry="1.1" fill="#62adf0" />
<ellipse cx="342.0" cy="832.8" rx="2.4" ry="1.9" fill="#144a8c" />
<ellipse cx="341.4" cy="831.9" rx="1.3" ry="1.1" fill="#62adf0" />
<ellipse cx="350.0" cy="830.4" rx="2.4" ry="1.9" fill="#144a8c" />
<ellipse cx="349.4" cy="829.5" rx="1.3" ry="1.1" fill="#62adf0" />
<ellipse cx="265.3" cy="866.8" rx="2.4" ry="1.9" fill="#144a8c" />
<ellipse cx="264.7" cy="865.9" rx="1.3" ry="1.1" fill="#62adf0" />
<ellipse cx="273.3" cy="864.4" rx="2.4" ry="1.9" fill="#144a8c" />
<ellipse cx="272.7" cy="863.6" rx="1.3" ry="1.1" fill="#62adf0" />
<ellipse cx="281.3" cy="862.1" rx="2.4" ry="1.9" fill="#144a8c" />
<ellipse cx="280.6" cy="861.2" rx="1.3" ry="1.1" fill="#62adf0" />
<ellipse cx="289.3" cy="859.7" rx="2.4" ry="1.9" fill="#144a8c" />
<ellipse cx="288.6" cy="858.8" rx="1.3" ry="1.1" fill="#62adf0" />
<ellipse cx="297.2" cy="857.3" rx="2.4" ry="1.9" fill="#144a8c" />
<ellipse cx="296.6" cy="856.5" rx="1.3" ry="1.1" fill="#62adf0" />
<ellipse cx="305.2" cy="854.9" rx="2.4" ry="1.9" fill="#144a8c" />
<ellipse cx="304.6" cy="854.1" rx="1.3" ry="1.1" fill="#62adf0" />
<ellipse cx="313.2" cy="852.6" rx="2.4" ry="1.9" fill="#144a8c" />
<ellipse cx="312.5" cy="851.7" rx="1.3" ry="1.1" fill="#62adf0" />
<ellipse cx="321.1" cy="850.2" rx="2.4" ry="1.9" fill="#144a8c" />
<ellipse cx="320.5" cy="849.3" rx="1.3" ry="1.1" fill="#62adf0" />
<ellipse cx="329.1" cy="847.8" rx="2.4" ry="1.9" fill="#144a8c" />
<ellipse cx="328.5" cy="847.0" rx="1.3" ry="1.1" fill="#62adf0" />
<ellipse cx="337.1" cy="845.5" rx="2.4" ry="1.9" fill="#144a8c" />
<ellipse cx="336.4" cy="844.6" rx="1.3" ry="1.1" fill="#62adf0" />
<ellipse cx="345.1" cy="843.1" rx="2.4" ry="1.9" fill="#144a8c" />
<ellipse cx="344.4" cy="842.2" rx="1.3" ry="1.1" fill="#62adf0" />
<ellipse cx="353.0" cy="840.7" rx="2.4" ry="1.9" fill="#144a8c" />
<ellipse cx="352.4" cy="839.9" rx="1.3" ry="1.1" fill="#62adf0" />
<ellipse cx="268.4" cy="877.1" rx="2.4" ry="1.9" fill="#144a8c" />
<ellipse cx="267.7" cy="876.3" rx="1.3" ry="1.1" fill="#62adf0" />
<ellipse cx="276.3" cy="874.8" rx="2.4" ry="1.9" fill="#144a8c" />
<ellipse cx="275.7" cy="873.9" rx="1.3" ry="1.1" fill="#62adf0" />
<ellipse cx="284.3" cy="872.4" rx="2.4" ry="1.9" fill="#144a8c" />
<ellipse cx="283.7" cy="871.5" rx="1.3" ry="1.1" fill="#62adf0" />
<ellipse cx="292.3" cy="870.0" rx="2.4" ry="1.9" fill="#144a8c" />
<ellipse cx="291.6" cy="869.2" rx="1.3" ry="1.1" fill="#62adf0" />
<ellipse cx="300.2" cy="867.7" rx="2.4" ry="1.9" fill="#144a8c" />
<ellipse cx="299.6" cy="866.8" rx="1.3" ry="1.1" fill="#62adf0" />
<ellipse cx="308.2" cy="865.3" rx="2.4" ry="1.9" fill="#144a8c" />
<ellipse cx="307.6" cy="864.4" rx="1.3" ry="1.1" fill="#62adf0" />
<ellipse cx="316.2" cy="862.9" rx="2.4" ry="1.9" fill="#144a8c" />
<ellipse cx="315.5" cy="862.1" rx="1.3" ry="1.1" fill="#62adf0" />
<ellipse cx="324.2" cy="860.5" rx="2.4" ry="1.9" fill="#144a8c" />
<ellipse cx="323.5" cy="859.7" rx="1.3" ry="1.1" fill="#62adf0" />
<ellipse cx="332.1" cy="858.2" rx="2.4" ry="1.9" fill="#144a8c" />
<ellipse cx="331.5" cy="857.3" rx="1.3" ry="1.1" fill="#62adf0" />
<ellipse cx="340.1" cy="855.8" rx="2.4" ry="1.9" fill="#144a8c" />
<ellipse cx="339.5" cy="854.9" rx="1.3" ry="1.1" fill="#62adf0" />
<ellipse cx="348.1" cy="853.4" rx="2.4" ry="1.9" fill="#144a8c" />
<ellipse cx="347.4" cy="852.6" rx="1.3" ry="1.1" fill="#62adf0" />
<ellipse cx="356.1" cy="851.1" rx="2.4" ry="1.9" fill="#144a8c" />
<ellipse cx="355.4" cy="850.2" rx="1.3" ry="1.1" fill="#62adf0" />
<path d="M241.9,853.9 C243.0,849.0 247.6,845.2 251.5,846.3 C255.5,847.4 262.3,852.3 265.6,860.3 C268.8,868.4 270.0,888.0 270.9,894.8 C271.8,901.6 273.8,901.6 270.9,901.3 C268.1,901.0 258.1,897.4 253.7,893.1 C249.3,888.8 246.6,882.0 244.7,875.4 C242.7,868.9 240.7,858.7 241.9,853.9Z" fill="#1d5ca6" />
<ellipse cx="252.6" cy="864.6" rx="3.9" ry="4.7" fill="#123f7a" />
<ellipse cx="260.2" cy="886.2" rx="3.4" ry="3.9" fill="#123f7a" />
<path d="M305.4,1019.8 C306.9,1015.8 315.1,1007.6 320.5,1000.4 C325.9,993.2 327.0,977.8 337.7,976.7 C348.5,975.6 369.3,987.8 385.1,993.9 C400.9,1000.0 424.6,1006.9 432.5,1013.3 C440.5,1019.8 435.1,1025.2 433.0,1032.7 C430.8,1040.2 426.2,1053.5 419.6,1058.6 C413.1,1063.7 400.2,1064.4 393.8,1063.3 C387.3,1062.2 388.7,1056.1 380.8,1052.1 C372.9,1048.1 357.8,1043.8 346.4,1039.2 C334.9,1034.5 318.7,1027.3 311.9,1024.1 C305.1,1020.9 304.0,1023.7 305.4,1019.8Z" fill="#1d62b2" />
<polygon points="337.7,976.7 432.5,1013.3 423.9,1028.4 327.0,991.8" fill="#3a8ad8" />
<polygon points="400.2,1041.3 419.6,1024.1 432.5,1015.5 433.0,1032.7 419.6,1058.6 393.8,1063.3" fill="#1a56a0" />
<ellipse cx="350.7" cy="987.0" rx="2.4" ry="1.9" fill="#154c90" />
<ellipse cx="350.0" cy="986.4" rx="1.3" ry="1.1" fill="#5ea9ee" />
<ellipse cx="360.1" cy="991.1" rx="2.4" ry="1.9" fill="#154c90" />
<ellipse cx="359.5" cy="990.5" rx="1.3" ry="1.1" fill="#5ea9ee" />
<ellipse cx="369.6" cy="995.2" rx="2.4" ry="1.9" fill="#154c90" />
<ellipse cx="369.0" cy="994.6" rx="1.3" ry="1.1" fill="#5ea9ee" />
<ellipse cx="379.1" cy="999.3" rx="2.4" ry="1.9" fill="#154c90" />
<ellipse cx="378.5" cy="998.7" rx="1.3" ry="1.1" fill="#5ea9ee" />
<ellipse cx="388.6" cy="1003.4" rx="2.4" ry="1.9" fill="#154c90" />
<ellipse cx="387.9" cy="1002.8" rx="1.3" ry="1.1" fill="#5ea9ee" />
<ellipse cx="398.1" cy="1007.5" rx="2.4" ry="1.9" fill="#154c90" />
<ellipse cx="397.4" cy="1006.9" rx="1.3" ry="1.1" fill="#5ea9ee" />
<ellipse cx="407.5" cy="1011.6" rx="2.4" ry="1.9" fill="#154c90" />
<ellipse cx="406.9" cy="1010.9" rx="1.3" ry="1.1" fill="#5ea9ee" />
<ellipse cx="417.0" cy="1015.7" rx="2.4" ry="1.9" fill="#154c90" />
<ellipse cx="416.4" cy="1015.0" rx="1.3" ry="1.1" fill="#5ea9ee" />
<ellipse cx="342.5" cy="991.8" rx="2.4" ry="1.9" fill="#154c90" />
<ellipse cx="341.8" cy="991.1" rx="1.3" ry="1.1" fill="#5ea9ee" />
<ellipse cx="352.0" cy="995.9" rx="2.4" ry="1.9" fill="#154c90" />
<ellipse cx="351.3" cy="995.2" rx="1.3" ry="1.1" fill="#5ea9ee" />
<ellipse cx="361.4" cy="1000.0" rx="2.4" ry="1.9" fill="#154c90" />
<ellipse cx="360.8" cy="999.3" rx="1.3" ry="1.1" fill="#5ea9ee" />
<ellipse cx="370.9" cy="1004.1" rx="2.4" ry="1.9" fill="#154c90" />
<ellipse cx="370.3" cy="1003.4" rx="1.3" ry="1.1" fill="#5ea9ee" />
<ellipse cx="380.4" cy="1008.1" rx="2.4" ry="1.9" fill="#154c90" />
<ellipse cx="379.8" cy="1007.5" rx="1.3" ry="1.1" fill="#5ea9ee" />
<ellipse cx="389.9" cy="1012.2" rx="2.4" ry="1.9" fill="#154c90" />
<ellipse cx="389.2" cy="1011.6" rx="1.3" ry="1.1" fill="#5ea9ee" />
<ellipse cx="399.4" cy="1016.3" rx="2.4" ry="1.9" fill="#154c90" />
<ellipse cx="398.7" cy="1015.7" rx="1.3" ry="1.1" fill="#5ea9ee" />
<ellipse cx="408.8" cy="1020.4" rx="2.4" ry="1.9" fill="#154c90" />
<ellipse cx="408.2" cy="1019.8" rx="1.3" ry="1.1" fill="#5ea9ee" />
<ellipse cx="334.3" cy="996.5" rx="2.4" ry="1.9" fill="#154c90" />
<ellipse cx="333.6" cy="995.9" rx="1.3" ry="1.1" fill="#5ea9ee" />
<ellipse cx="343.8" cy="1000.6" rx="2.4" ry="1.9" fill="#154c90" />
<ellipse cx="343.1" cy="1000.0" rx="1.3" ry="1.1" fill="#5ea9ee" />
<ellipse cx="353.2" cy="1004.7" rx="2.4" ry="1.9" fill="#154c90" />
<ellipse cx="352.6" cy="1004.1" rx="1.3" ry="1.1" fill="#5ea9ee" />
<ellipse cx="362.7" cy="1008.8" rx="2.4" ry="1.9" fill="#154c90" />
<ellipse cx="362.1" cy="1008.1" rx="1.3" ry="1.1" fill="#5ea9ee" />
<ellipse cx="372.2" cy="1012.9" rx="2.4" ry="1.9" fill="#154c90" />
<ellipse cx="371.6" cy="1012.2" rx="1.3" ry="1.1" fill="#5ea9ee" />
<ellipse cx="381.7" cy="1017.0" rx="2.4" ry="1.9" fill="#154c90" />
<ellipse cx="381.0" cy="1016.3" rx="1.3" ry="1.1" fill="#5ea9ee" />
<ellipse cx="391.2" cy="1021.1" rx="2.4" ry="1.9" fill="#154c90" />
<ellipse cx="390.5" cy="1020.4" rx="1.3" ry="1.1" fill="#5ea9ee" />
<ellipse cx="400.7" cy="1025.2" rx="2.4" ry="1.9" fill="#154c90" />
<ellipse cx="400.0" cy="1024.5" rx="1.3" ry="1.1" fill="#5ea9ee" />
<path d="M316.2,1025.2 C316.9,1026.2 319.8,1030.6 320.5,1031.6" fill="none" stroke="#154c90" stroke-width="1.2" stroke-linecap="round" stroke-linejoin="round" />
<path d="M325.7,1029.0 C326.4,1030.1 329.3,1034.4 330.0,1035.5" fill="none" stroke="#154c90" stroke-width="1.2" stroke-linecap="round" stroke-linejoin="round" />
<path d="M335.1,1032.9 C335.9,1034.0 338.7,1038.3 339.5,1039.4" fill="none" stroke="#154c90" stroke-width="1.2" stroke-linecap="round" stroke-linejoin="round" />
<path d="M344.6,1036.8 C345.3,1037.9 348.2,1042.2 348.9,1043.3" fill="none" stroke="#154c90" stroke-width="1.2" stroke-linecap="round" stroke-linejoin="round" />
<path d="M354.1,1040.7 C354.8,1041.8 357.7,1046.1 358.4,1047.1" fill="none" stroke="#154c90" stroke-width="1.2" stroke-linecap="round" stroke-linejoin="round" />
<path d="M363.6,1044.6 C364.3,1045.6 367.2,1049.9 367.9,1051.0" fill="none" stroke="#154c90" stroke-width="1.2" stroke-linecap="round" stroke-linejoin="round" />
<path d="M373.1,1048.4 C373.8,1049.5 376.7,1053.8 377.4,1054.9" fill="none" stroke="#154c90" stroke-width="1.2" stroke-linecap="round" stroke-linejoin="round" />
<path d="M382.6,1052.3 C383.3,1053.4 386.1,1057.7 386.9,1058.8" fill="none" stroke="#154c90" stroke-width="1.2" stroke-linecap="round" stroke-linejoin="round" />
<rect x="321.6" y="980.6" width="9.0" height="23.7" rx="1.7" fill="url(#gSv)" />
<rect x="323.3" y="975.8" width="6.0" height="6.5" rx="1.3" fill="#26262a" />
<rect x="331.5" y="986.4" width="9.0" height="23.7" rx="1.7" fill="url(#gSv)" />
<rect x="333.2" y="981.6" width="6.0" height="6.5" rx="1.3" fill="#26262a" />
<rect x="341.4" y="992.2" width="9.0" height="23.7" rx="1.7" fill="url(#gSv)" />
<rect x="343.1" y="987.5" width="6.0" height="6.5" rx="1.3" fill="#26262a" />
<rect x="351.3" y="998.0" width="9.0" height="23.7" rx="1.7" fill="url(#gSv)" />
<rect x="353.0" y="993.3" width="6.0" height="6.5" rx="1.3" fill="#26262a" />
<rect x="361.2" y="1003.8" width="9.0" height="23.7" rx="1.7" fill="url(#gSv)" />
<rect x="362.9" y="999.1" width="6.0" height="6.5" rx="1.3" fill="#26262a" />
<rect x="371.1" y="1009.7" width="9.0" height="23.7" rx="1.7" fill="url(#gSv)" />
<rect x="372.9" y="1004.9" width="6.0" height="6.5" rx="1.3" fill="#26262a" />
<rect x="381.0" y="1015.5" width="9.0" height="23.7" rx="1.7" fill="url(#gSv)" />
<rect x="382.8" y="1010.7" width="6.0" height="6.5" rx="1.3" fill="#26262a" />
<rect x="391.0" y="1021.3" width="9.0" height="23.7" rx="1.7" fill="url(#gSv)" />
<rect x="392.7" y="1016.5" width="6.0" height="6.5" rx="1.3" fill="#26262a" />
<rect x="313.0" y="995.0" width="9.5" height="24.1" rx="1.7" fill="url(#gSv)" />
<rect x="314.7" y="989.4" width="6.5" height="6.9" rx="1.3" fill="#26262a" />
<rect x="322.9" y="1000.8" width="9.5" height="24.1" rx="1.7" fill="url(#gSv)" />
<rect x="324.6" y="995.2" width="6.5" height="6.9" rx="1.3" fill="#26262a" />
<rect x="332.8" y="1006.6" width="9.5" height="24.1" rx="1.7" fill="url(#gSv)" />
<rect x="334.5" y="1001.0" width="6.5" height="6.9" rx="1.3" fill="#26262a" />
<rect x="342.7" y="1012.5" width="9.5" height="24.1" rx="1.7" fill="url(#gSv)" />
<rect x="344.4" y="1006.9" width="6.5" height="6.9" rx="1.3" fill="#26262a" />
<rect x="352.6" y="1018.3" width="9.5" height="24.1" rx="1.7" fill="url(#gSv)" />
<rect x="354.3" y="1012.7" width="6.5" height="6.9" rx="1.3" fill="#26262a" />
<rect x="362.5" y="1024.1" width="9.5" height="24.1" rx="1.7" fill="url(#gSv)" />
<rect x="364.2" y="1018.5" width="6.5" height="6.9" rx="1.3" fill="#26262a" />
<rect x="372.4" y="1029.9" width="9.5" height="24.1" rx="1.7" fill="url(#gSv)" />
<rect x="374.1" y="1024.3" width="6.5" height="6.9" rx="1.3" fill="#26262a" />
<rect x="382.3" y="1035.7" width="9.5" height="24.1" rx="1.7" fill="url(#gSv)" />
<rect x="384.1" y="1030.1" width="6.5" height="6.9" rx="1.3" fill="#26262a" />
</g>
<g id="hsp_hcl">
<polygon points="593.9,1237.2 602.2,1231.0 646.5,1233.7 644.0,1256.6 632.7,1264.2 598.0,1258.0" fill="#9b9e9f" />
<polygon points="632.7,1244.1 646.5,1233.7 644.0,1256.6 632.7,1264.2" fill="#85888a" />
<polygon points="602.2,1231.0 646.5,1233.7 645.1,1240.0 596.6,1238.6" fill="#b4b6b6" />
<ellipse cx="621.6" cy="1244.8" rx="3.3" ry="3.0" fill="#d6d6d6" />
<ellipse cx="608.4" cy="1251.1" rx="3.3" ry="3.0" fill="#d6d6d6" />
<rect x="605.6" y="1195.6" width="43.7" height="34.6" rx="0.8" fill="url(#gGy)" />
<path d="M606.3,1206.7 C613.4,1206.5 641.6,1205.6 648.6,1205.3" fill="none" stroke="#7e8184" stroke-width="0.8" stroke-linecap="round" stroke-linejoin="round" />
<path d="M606.3,1217.8 C613.4,1217.7 641.6,1217.2 648.6,1217.1" fill="none" stroke="#7e8184" stroke-width="0.8" stroke-linecap="round" stroke-linejoin="round" />
<polygon points="594.6,1187.0 659.0,1183.1 657.9,1191.7 649.3,1197.3 595.2,1195.6" fill="#a9abab" />
<ellipse cx="627.8" cy="1181.8" rx="24.3" ry="6.7" fill="#8f9294" />
<ellipse cx="627.8" cy="1180.1" rx="23.8" ry="6.1" fill="#f4f4f4" />
<rect x="616.7" y="1161.0" width="21.5" height="18.0" rx="1.9" fill="#ffffff" />
<path d="M619.5,1162.6 C619.5,1165.1 619.5,1175.1 619.5,1177.6" fill="none" stroke="#e0e0e0" stroke-width="0.8" stroke-linecap="round" stroke-linejoin="round" />
<path d="M623.5,1162.6 C623.5,1165.1 623.5,1175.1 623.5,1177.6" fill="none" stroke="#e0e0e0" stroke-width="0.8" stroke-linecap="round" stroke-linejoin="round" />
<path d="M627.5,1162.6 C627.5,1165.1 627.5,1175.1 627.5,1177.6" fill="none" stroke="#e0e0e0" stroke-width="0.8" stroke-linecap="round" stroke-linejoin="round" />
<path d="M631.6,1162.6 C631.6,1165.1 631.6,1175.1 631.6,1177.6" fill="none" stroke="#e0e0e0" stroke-width="0.8" stroke-linecap="round" stroke-linejoin="round" />
<path d="M635.6,1162.6 C635.6,1165.1 635.6,1175.1 635.6,1177.6" fill="none" stroke="#e0e0e0" stroke-width="0.8" stroke-linecap="round" stroke-linejoin="round" />
<polygon points="743.5,1184.8 753.2,1180.4 801.7,1191.5 800.6,1205.3 796.2,1220.6 774.0,1217.8 750.5,1210.9 744.2,1197.0" fill="#8e9193" />
<polygon points="776.1,1206.7 800.3,1202.5 796.2,1220.6 776.8,1217.8" fill="#7d8083" />
<rect x="753.2" y="1152.7" width="47.1" height="43.0" rx="4.2" fill="url(#gGy)" />
<polygon points="743.5,1143.2 764.3,1132.6 807.3,1138.1 807.5,1146.0 785.1,1158.5 744.2,1151.6" fill="#a5a8a9" />
<polygon points="744.2,1147.1 785.1,1154.0 807.5,1141.6 807.5,1146.0 785.1,1158.5 744.2,1151.6" fill="#8d9092" />
<ellipse cx="776.1" cy="1139.5" rx="20.8" ry="10.0" fill="#e9e9e9" />
<ellipse cx="776.1" cy="1136.3" rx="16.6" ry="7.6" fill="#f6f6f6" />
<rect x="764.3" y="1118.0" width="23.6" height="19.4" rx="2.8" fill="#f2f2f2" opacity=".93"/>
<path d="M767.4,1120.1 C767.4,1122.5 767.4,1132.2 767.4,1134.6" fill="none" stroke="#d2d2d2" stroke-width="0.8" stroke-linecap="round" stroke-linejoin="round" />
<path d="M771.8,1120.1 C771.8,1122.5 771.8,1132.2 771.8,1134.6" fill="none" stroke="#d2d2d2" stroke-width="0.8" stroke-linecap="round" stroke-linejoin="round" />
<path d="M776.2,1120.1 C776.2,1122.5 776.2,1132.2 776.2,1134.6" fill="none" stroke="#d2d2d2" stroke-width="0.8" stroke-linecap="round" stroke-linejoin="round" />
<path d="M780.7,1120.1 C780.7,1122.5 780.7,1132.2 780.7,1134.6" fill="none" stroke="#d2d2d2" stroke-width="0.8" stroke-linecap="round" stroke-linejoin="round" />
<path d="M785.1,1120.1 C785.1,1122.5 785.1,1132.2 785.1,1134.6" fill="none" stroke="#d2d2d2" stroke-width="0.8" stroke-linecap="round" stroke-linejoin="round" />
<ellipse cx="754.9" cy="1195.6" rx="5.3" ry="5.3" fill="#f2d92c" />
<ellipse cx="769.2" cy="1200.5" rx="5.5" ry="5.5" fill="#f2d92c" />
</g>
<g id="hm5x">
<rect x="1261.1" y="351.8" width="27.7" height="19.4" rx="0.9" fill="#f3f3f3" />
<path d="M1263.4,353.6 C1263.4,356.6 1263.4,368.3 1263.4,371.2" fill="none" stroke="#d4d4d4" stroke-width="1.0" stroke-linecap="round" stroke-linejoin="round" />
<path d="M1267.3,353.6 C1267.3,356.6 1267.3,368.3 1267.3,371.2" fill="none" stroke="#d4d4d4" stroke-width="1.0" stroke-linecap="round" stroke-linejoin="round" />
<path d="M1271.2,353.6 C1271.2,356.6 1271.2,368.3 1271.2,371.2" fill="none" stroke="#d4d4d4" stroke-width="1.0" stroke-linecap="round" stroke-linejoin="round" />
<path d="M1275.0,353.6 C1275.0,356.6 1275.0,368.3 1275.0,371.2" fill="none" stroke="#d4d4d4" stroke-width="1.0" stroke-linecap="round" stroke-linejoin="round" />
<path d="M1278.9,353.6 C1278.9,356.6 1278.9,368.3 1278.9,371.2" fill="none" stroke="#d4d4d4" stroke-width="1.0" stroke-linecap="round" stroke-linejoin="round" />
<path d="M1282.8,353.6 C1282.8,356.6 1282.8,368.3 1282.8,371.2" fill="none" stroke="#d4d4d4" stroke-width="1.0" stroke-linecap="round" stroke-linejoin="round" />
<path d="M1286.7,353.6 C1286.7,356.6 1286.7,368.3 1286.7,371.2" fill="none" stroke="#d4d4d4" stroke-width="1.0" stroke-linecap="round" stroke-linejoin="round" />
<ellipse cx="1275.4" cy="345.3" rx="30.3" ry="9.7" fill="#6d7073" />
<ellipse cx="1275.4" cy="343.0" rx="27.7" ry="8.3" fill="#7c7f82" />
<rect x="1252.3" y="314.9" width="44.8" height="26.8" rx="2.8" fill="url(#gGy2)" />
<path d="M1248.2,284.6 C1251.7,281.4 1261.0,278.8 1269.9,278.4 C1278.7,278.0 1295.9,277.2 1301.3,282.1 C1306.6,286.9 1302.9,301.7 1302.0,307.5 C1301.1,313.3 1304.2,315.3 1295.9,316.9 C1287.6,318.5 1261.3,317.5 1252.3,316.9 C1243.4,316.2 1243.9,315.8 1242.2,313.0 C1240.5,310.2 1241.1,302.7 1242.2,300.1 C1243.2,297.5 1247.4,299.9 1248.4,297.3 C1249.4,294.7 1244.6,287.7 1248.2,284.6Z" fill="#74777a" />
<path d="M1248.2,284.6 C1250.0,282.5 1261.0,278.8 1269.9,278.4 C1278.7,278.0 1298.8,280.2 1301.3,282.1 C1303.7,284.0 1291.7,288.5 1284.6,289.9 C1277.6,291.4 1264.9,291.7 1258.8,290.9 C1252.7,290.0 1246.3,286.7 1248.2,284.6Z" fill="#8a8d90" />
<polygon points="1271.7,304.7 1295.7,301.9 1296.2,316.7 1272.6,318.6" fill="#66696c" />
</g>
<g id="hp6v">
<path d="M1587.8,464.2 C1587.8,463.8 1587.8,462.0 1587.8,461.6" fill="none" stroke="#cfcfcf" stroke-width="1.5" stroke-linecap="round" stroke-linejoin="round" />
<ellipse cx="1587.8" cy="457.1" rx="4.3" ry="4.6" fill="none" stroke="#d5d5d5" stroke-width="1.4"/>
<path d="M1540.8,454.5 C1542.0,451.5 1544.4,450.8 1548.3,450.5 C1552.3,450.2 1559.4,451.3 1564.3,452.7 C1569.2,454.1 1574.6,456.5 1577.6,458.9 C1580.5,461.4 1579.3,465.4 1582.0,467.3 C1584.7,469.2 1589.1,469.2 1593.5,470.4 C1597.9,471.7 1605.3,472.8 1608.6,474.9 C1611.8,476.9 1610.5,480.6 1613.0,482.8 C1615.5,485.0 1620.9,486.1 1623.6,488.1 C1626.3,490.2 1628.1,491.2 1629.1,495.2 C1630.2,499.2 1631.0,507.0 1629.8,512.1 C1628.6,517.1 1626.9,521.1 1621.9,525.3 C1616.8,529.6 1604.1,536.6 1599.7,537.7 C1595.3,538.9 1600.3,534.6 1595.3,532.4 C1590.3,530.2 1575.8,525.8 1569.6,524.6 C1563.4,523.5 1561.9,526.6 1558.1,525.5 C1554.2,524.5 1550.5,521.2 1546.6,518.3 C1542.7,515.3 1536.7,512.6 1534.6,507.6 C1532.5,502.6 1532.5,492.0 1534.2,488.1 C1535.9,484.3 1542.9,487.3 1544.8,484.6 C1546.7,481.9 1546.5,474.9 1545.9,472.2 C1545.3,469.5 1542.1,471.6 1541.3,468.7 C1540.4,465.7 1539.6,457.5 1540.8,454.5Z" fill="#d2d3d4" />
<path d="M1576.7,484.6 C1579.0,479.1 1582.0,474.7 1587.3,473.1 C1592.6,471.5 1604.3,473.2 1608.6,474.9 C1612.9,476.5 1614.5,480.0 1613.0,482.8 C1611.5,485.6 1603.0,486.4 1599.7,491.7 C1596.5,497.0 1596.5,510.0 1593.5,514.7 C1590.6,519.4 1585.4,521.5 1582.0,520.0 C1578.6,518.6 1574.0,511.8 1573.1,505.9 C1572.3,500.0 1574.3,490.1 1576.7,484.6Z" fill="#e2e3e4" />
<polygon points="1558.1,456.3 1566.1,454.5 1567.8,479.3 1559.0,481.1" fill="#c2c3c5" />
<polygon points="1550.1,489.9 1566.1,488.1 1569.6,524.5 1558.1,525.3 1550.1,512.9" fill="#c6c7c9" />
<polygon points="1534.6,488.1 1550.1,489.9 1550.1,512.9 1535.1,508.5" fill="#f6f6f6" />
<ellipse cx="1540.4" cy="499.2" rx="3.4" ry="4.1" fill="#ec5560" />
<path d="M1605.0,488.1 C1609.2,485.6 1618.6,485.8 1622.7,487.3 C1626.9,488.7 1628.6,492.7 1629.8,497.0 C1631.0,501.3 1631.6,508.1 1630.0,512.9 C1628.4,517.8 1625.1,522.2 1620.1,526.2 C1615.0,530.2 1604.0,536.7 1599.7,536.9 C1595.4,537.0 1594.7,532.9 1594.4,527.1 C1594.1,521.4 1596.2,508.8 1597.9,502.3 C1599.7,495.8 1600.9,490.7 1605.0,488.1Z" fill="#f7f7f7" />
<ellipse cx="1614.8" cy="507.6" rx="11.5" ry="16.4" fill="#e9e9e9" transform="rotate(20 1614.8 507.6)" />
<ellipse cx="1615.2" cy="507.6" rx="7.5" ry="11.5" fill="#fbfbfb" transform="rotate(20 1615.2 507.6)" />
<polygon points="1613.9,503.2 1627.2,505.9 1629.4,512.9 1616.5,514.7" fill="#f0f0f0" />
</g>
<g id="hm4v_hcw">
<path d="M1601.9,618.3 C1606.4,608.4 1622.2,620.5 1629.0,623.7 C1635.8,626.9 1640.1,631.9 1642.5,637.3 C1645.0,642.6 1644.4,650.2 1643.6,655.9 C1642.7,661.5 1640.5,668.0 1637.5,671.1 C1634.5,674.3 1631.5,672.8 1625.6,674.8 C1619.7,676.9 1605.9,692.7 1601.9,683.3 C1598.0,673.9 1597.4,628.2 1601.9,618.3Z" fill="#85888c" />
<ellipse cx="1633.2" cy="649.1" rx="9.8" ry="25.1" fill="#94979b" />
<ellipse cx="1601.9" cy="650.8" rx="25.4" ry="33.2" fill="#8a8d91" transform="rotate(-8 1601.9 650.8)" />
<ellipse cx="1599.9" cy="650.8" rx="21.2" ry="28.8" fill="#9da0a3" transform="rotate(-8 1599.9 650.8)" />
<ellipse cx="1615.4" cy="650.8" rx="1.2" ry="1.4" fill="#74777b" />
<ellipse cx="1613.3" cy="663.5" rx="1.2" ry="1.4" fill="#74777b" />
<ellipse cx="1607.7" cy="672.8" rx="1.2" ry="1.4" fill="#74777b" />
<ellipse cx="1599.9" cy="676.2" rx="1.2" ry="1.4" fill="#74777b" />
<ellipse cx="1592.1" cy="672.8" rx="1.2" ry="1.4" fill="#74777b" />
<ellipse cx="1586.4" cy="663.5" rx="1.2" ry="1.4" fill="#74777b" />
<ellipse cx="1584.3" cy="650.8" rx="1.2" ry="1.4" fill="#74777b" />
<ellipse cx="1586.4" cy="638.1" rx="1.2" ry="1.4" fill="#74777b" />
<ellipse cx="1592.1" cy="628.8" rx="1.2" ry="1.4" fill="#74777b" />
<ellipse cx="1599.9" cy="625.4" rx="1.2" ry="1.4" fill="#74777b" />
<ellipse cx="1607.7" cy="628.8" rx="1.2" ry="1.4" fill="#74777b" />
<ellipse cx="1613.3" cy="638.1" rx="1.2" ry="1.4" fill="#74777b" />
<polygon points="1564.7,636.4 1571.4,629.6 1590.1,630.5 1598.5,638.9 1600.6,655.9 1585.0,664.7 1565.5,661.0" fill="#a6a9ac" />
<polygon points="1564.7,636.4 1571.4,629.6 1590.1,630.5 1583.3,637.6" fill="#b8babc" />
<rect x="1574.8" y="655.9" width="22.0" height="23.7" rx="1.4" fill="#8f9295" />
<ellipse cx="1596.8" cy="650.8" rx="6.1" ry="7.1" fill="#b4b6b8" />
<ellipse cx="1596.8" cy="650.8" rx="3.4" ry="4.1" fill="#8a8d90" />
<rect x="1560.9" y="649.1" width="4.6" height="3.7" rx="0.3" fill="#a0a3a6" />
<ellipse cx="1528.6" cy="802.3" rx="23.2" ry="4.7" fill="#7d8083" />
<rect x="1505.4" y="759.2" width="46.6" height="44.0" rx="1.7" fill="url(#gGy2)" />
<rect x="1505.4" y="779.5" width="46.6" height="23.7" rx="1.7" fill="#94979a" opacity=".55"/>
<polygon points="1496.9,746.0 1503.7,743.1 1552.8,742.2 1559.6,745.6 1559.6,757.5 1554.5,761.2 1497.8,762.9" fill="#787b7f" />
<polygon points="1543.5,745.6 1559.6,745.6 1559.6,757.5 1554.5,761.2 1543.5,760.9" fill="#8a8d91" />
<polygon points="1513.0,730.7 1518.9,726.1 1537.6,726.1 1543.5,730.7 1543.5,746.0 1513.0,746.0" fill="#7f8286" />
<rect x="1521.5" y="705.8" width="12.7" height="24.9" rx="0.7" fill="url(#gSv)" />
<ellipse cx="1527.9" cy="704.6" rx="9.0" ry="3.2" fill="#e6e6e6" />
<ellipse cx="1507.1" cy="755.8" rx="3.7" ry="3.7" fill="#e2473c" />
<ellipse cx="1519.8" cy="758.3" rx="4.1" ry="4.1" fill="#e2473c" />
</g>
<g id="hdl">
<polygon points="1555.8,881.6 1612.1,881.6 1609.6,921.5 1559.2,921.5" fill="url(#gGy)" />
<ellipse cx="1584.4" cy="921.5" rx="25.2" ry="8.4" fill="url(#gGy)" />
<path d="M1558.1,902.9 C1566.8,902.9 1601.4,902.9 1610.1,902.9" fill="none" stroke="#8a8c8c" stroke-width="0.8" stroke-linecap="round" stroke-linejoin="round" />
<ellipse cx="1584.0" cy="879.4" rx="36.5" ry="9.6" fill="#a5a7a7" />
<ellipse cx="1584.0" cy="876.8" rx="35.8" ry="8.8" fill="#bdbfbf" />
<rect x="1547.7" y="866.6" width="72.6" height="10.6" rx="0.0" fill="#a9abab" />
<ellipse cx="1584.0" cy="867.3" rx="37.2" ry="9.9" fill="#9c9e9e" />
<ellipse cx="1584.0" cy="865.3" rx="36.7" ry="9.3" fill="#b6b8b8" />
<path d="M1556.1,840.5 C1560.1,836.1 1571.5,834.8 1579.6,834.3 C1587.6,833.8 1598.9,835.5 1604.3,837.4 C1609.8,839.2 1610.9,840.9 1612.3,845.4 C1613.7,849.8 1617.6,860.2 1612.7,863.9 C1607.9,867.7 1592.6,868.2 1583.1,867.7 C1573.6,867.1 1560.2,864.9 1555.7,860.4 C1551.2,855.9 1552.1,844.8 1556.1,840.5Z" fill="#a2a4a4" />
<polygon points="1556.1,840.5 1579.6,834.3 1604.3,837.4 1583.1,845.8" fill="#b9bbbb" />
<polygon points="1583.1,845.8 1604.3,837.4 1612.3,845.4 1612.7,863.9 1584.0,867.5" fill="#989a9a" />
<path d="M1583.1,845.8 C1583.1,844.2 1587.8,842.3 1591.9,841.8 C1596.1,841.3 1604.9,841.7 1607.9,842.7 C1610.8,843.7 1612.3,846.5 1609.6,848.0 C1607.0,849.5 1596.4,851.9 1591.9,851.5 C1587.5,851.2 1583.1,847.4 1583.1,845.8Z" fill="#5d5f61" />
<ellipse cx="1560.1" cy="851.1" rx="5.3" ry="5.5" fill="#f0de22" />
<ellipse cx="1576.0" cy="854.2" rx="5.5" ry="5.7" fill="#f0de22" />
</g>
<g id="pprv_pvh1">
<polygon points="1243.2,976.4 1261.9,963.3 1269.1,971.6 1249.4,981.0" fill="url(#gSv)" />
<path d="M1253.6,970.2 C1254.4,971.5 1257.6,976.5 1258.4,977.8" fill="none" stroke="#2b6f5a" stroke-width="1.4" stroke-linecap="round" stroke-linejoin="round" />
<path d="M1250.8,972.3 C1251.5,973.4 1254.5,978.0 1255.2,979.2" fill="none" stroke="#26262a" stroke-width="1.2" stroke-linecap="round" stroke-linejoin="round" />
<path d="M1257.0,968.1 C1257.9,969.4 1261.3,974.5 1262.2,975.7" fill="none" stroke="#26262a" stroke-width="1.2" stroke-linecap="round" stroke-linejoin="round" />
<polygon points="1252.2,963.3 1261.2,958.4 1266.3,971.6 1279.2,969.5 1281.6,974.6 1270.2,978.8 1255.6,971.6" fill="#bdb9ae" />
<polygon points="1264.6,957.0 1285.2,946.4 1295.1,952.9 1295.4,962.2 1274.6,976.8 1265.8,973.2" fill="#cfcabb" stroke="#cfcabb" stroke-width="2" stroke-linejoin="round"/>
<polygon points="1267.1,957.7 1285.2,948.3 1292.6,951.1 1271.6,963.0" fill="#e8e4d8" />
<polygon points="1271.6,971.6 1295.1,957.7 1295.4,962.2 1274.6,976.8" fill="#b3ae9f" />
<polygon points="1288.2,946.6 1295.1,942.5 1304.1,947.3 1303.4,954.3 1296.5,957.3" fill="#8c765f" stroke="#8c765f" stroke-width="1.5" stroke-linejoin="round"/>
<path d="M1347.1,1054.7 C1351.5,1053.7 1368.0,1062.8 1375.5,1062.3 C1383.0,1061.9 1389.6,1050.9 1392.1,1052.0 C1394.7,1053.0 1391.2,1063.5 1390.8,1068.6 C1390.3,1073.7 1390.5,1078.7 1389.4,1082.4 C1388.2,1086.1 1387.1,1088.2 1383.8,1090.8 C1380.6,1093.3 1373.4,1097.7 1370.0,1098.0 C1366.5,1098.2 1366.3,1093.6 1363.0,1092.1 C1359.8,1090.7 1352.9,1093.3 1350.6,1089.4 C1348.2,1085.4 1349.5,1074.4 1348.9,1068.6 C1348.3,1062.8 1342.7,1055.8 1347.1,1054.7Z" fill="#c6c3ba" />
<polygon points="1375.5,1062.3 1392.1,1052.0 1389.4,1082.4 1383.8,1090.8 1375.5,1093.5" fill="#aaa79e" />
<ellipse cx="1361.0" cy="1068.6" rx="3.6" ry="4.2" fill="#4c4c4e" />
<ellipse cx="1359.6" cy="1080.4" rx="3.6" ry="4.2" fill="#4c4c4e" />
<polygon points="1334.6,1047.8 1340.9,1044.7 1374.1,1058.9 1403.9,1040.2 1404.9,1042.5 1375.5,1062.6 1336.7,1052.2" fill="#dfe3da" />
<polygon points="1339.8,1033.2 1349.5,1022.6 1364.4,1017.3 1377.2,1022.6 1377.5,1030.1 1360.3,1039.8 1359.2,1054.4 1341.1,1049.2" fill="#2a2a2e" stroke-linejoin="round" stroke-width="2.2" stroke="#2a2a2e"/>
<polygon points="1359.9,1037.4 1370.2,1027.7 1385.2,1022.8 1398.8,1027.6 1399.6,1043.6 1374.1,1057.5 1360.5,1053.3" fill="#303034" stroke-linejoin="round" stroke-width="2.2" stroke="#303034"/>
<polygon points="1349.5,1023.1 1364.4,1017.9 1376.6,1022.6 1361.0,1030.1" fill="#3e3e44" stroke-linejoin="round" stroke-width="2.2" stroke="#3e3e44"/>
<polygon points="1370.2,1028.4 1385.2,1023.4 1398.2,1027.8 1382.4,1035.3" fill="#3e3e44" stroke-linejoin="round" stroke-width="2.2" stroke="#3e3e44"/>
<polygon points="1353.3,1025.1 1363.7,1021.2 1371.4,1023.4 1360.5,1027.8" fill="#2c2c30" />
<polygon points="1374.8,1030.1 1384.9,1026.2 1393.0,1028.7 1382.2,1032.8" fill="#2c2c30" />
<path d="M1340.9,1040.9 C1343.9,1041.8 1356.1,1045.7 1359.2,1046.7" fill="none" stroke="#18181a" stroke-width="0.7" stroke-linecap="round" stroke-linejoin="round" />
<path d="M1361.0,1046.7 C1363.2,1047.3 1367.7,1052.2 1374.1,1050.6 C1380.5,1048.9 1395.1,1039.0 1399.3,1036.7" fill="none" stroke="#18181a" stroke-width="0.7" stroke-linecap="round" stroke-linejoin="round" />
<path d="M1340.9,1044.2 C1343.9,1045.2 1356.1,1049.0 1359.2,1050.0" fill="none" stroke="#18181a" stroke-width="0.7" stroke-linecap="round" stroke-linejoin="round" />
<path d="M1361.0,1050.0 C1363.2,1050.7 1367.7,1055.6 1374.1,1053.9 C1380.5,1052.2 1395.1,1042.3 1399.3,1040.0" fill="none" stroke="#18181a" stroke-width="0.7" stroke-linecap="round" stroke-linejoin="round" />
<path d="M1340.9,1047.5 C1343.9,1048.5 1356.1,1052.4 1359.2,1053.3" fill="none" stroke="#18181a" stroke-width="0.7" stroke-linecap="round" stroke-linejoin="round" />
<path d="M1361.0,1053.3 C1363.2,1054.0 1367.7,1058.9 1374.1,1057.2 C1380.5,1055.6 1395.1,1045.7 1399.3,1043.4" fill="none" stroke="#18181a" stroke-width="0.7" stroke-linecap="round" stroke-linejoin="round" />
</g>
<g id="pvh23">
<rect x="1507.4" y="1190.4" width="5.9" height="4.8" rx="0.4" fill="#b9b9b9" />
<rect x="1524.0" y="1195.9" width="8.3" height="8.3" rx="0.7" fill="#a9a9a9" />
<ellipse cx="1506.0" cy="1202.9" rx="9.3" ry="8.3" fill="none" stroke="#0e0e10" stroke-width="2.2"/>
<ellipse cx="1508.8" cy="1201.5" rx="7.6" ry="6.2" fill="none" transform="rotate(-20 1508.8 1201.5)" stroke="#16161a" stroke-width="1.6"/>
<path d="M1483.9,1192.5 C1484.2,1191.2 1486.7,1189.1 1488.7,1189.4 C1490.7,1189.6 1494.9,1192.5 1495.6,1193.9 C1496.3,1195.2 1494.4,1197.2 1492.9,1197.7 C1491.4,1198.2 1488.1,1197.8 1486.6,1197.0 C1485.1,1196.1 1483.5,1193.7 1483.9,1192.5Z" fill="#505257" />
<polygon points="1491.1,1180.0 1496.7,1175.9 1561.4,1177.9 1562.5,1180.0 1561.4,1183.8 1540.6,1202.7 1491.5,1182.4" fill="#e9e9e9" />
<path d="M1496.7,1171.0 C1498.5,1166.8 1505.0,1161.7 1508.8,1157.9 C1512.5,1154.0 1514.6,1148.6 1519.2,1147.8 C1523.8,1147.0 1530.7,1151.0 1536.5,1153.0 C1542.3,1155.0 1550.5,1156.9 1553.8,1159.9 C1557.1,1162.9 1556.0,1167.3 1556.3,1171.0 C1556.5,1174.7 1558.9,1177.8 1555.3,1182.2 C1551.8,1186.6 1544.7,1197.3 1535.1,1197.5 C1525.5,1197.6 1504.1,1187.3 1497.7,1182.9 C1491.3,1178.5 1494.8,1175.2 1496.7,1171.0Z" fill="#1d1f20" />
<path d="M1508.8,1157.9 C1504.4,1154.0 1511.7,1147.5 1519.2,1147.8 C1526.7,1148.2 1549.4,1156.1 1553.8,1159.9 C1558.2,1163.8 1553.0,1171.4 1545.5,1171.0 C1538.0,1170.7 1513.2,1161.7 1508.8,1157.9Z" fill="#2c2e30" />
<path d="M1512.2,1158.9 C1517.7,1160.9 1539.0,1167.6 1544.8,1171.0 C1550.6,1174.4 1546.5,1177.9 1546.9,1179.3" fill="none" stroke="#0a0a0a" stroke-width="1.2" stroke-linecap="round" stroke-linejoin="round" />
<ellipse cx="1531.3" cy="1157.9" rx="10.5" ry="3.9" fill="#e4e4e4" transform="rotate(19 1531.3 1157.9)" />
<ellipse cx="1531.3" cy="1157.9" rx="4.3" ry="1.0" fill="#3b3b3d" transform="rotate(19 1531.3 1157.9)" />
<ellipse cx="1524.7" cy="1155.6" rx="1.0" ry="0.8" fill="#222" />
<ellipse cx="1538.2" cy="1160.3" rx="1.0" ry="0.8" fill="#222" />
<ellipse cx="1522.3" cy="1166.3" rx="10.9" ry="4.2" fill="#e4e4e4" transform="rotate(19 1522.3 1166.3)" />
<ellipse cx="1522.3" cy="1166.3" rx="4.4" ry="1.0" fill="#3b3b3d" transform="rotate(19 1522.3 1166.3)" />
<ellipse cx="1515.4" cy="1164.1" rx="1.0" ry="0.8" fill="#222" />
<ellipse cx="1529.2" cy="1168.8" rx="1.0" ry="0.8" fill="#222" />
</g>
</svg>
<svg id="banner" viewBox="0 28 690 70">
<polygon points="0,28.3 579,28.3 613.4,98.4 0,98.4" fill="#fff"/>
<polygon points="596.9,28.3 615.2,28.3 651,98.4 633.1,98.4" fill="#fff"/>
<polygon points="631.2,28.3 649.1,28.3 684.8,98.4 667,98.4" fill="#fff"/>
</svg>
<h1>挖掘机系统解决方案</h1>
<h2><span class="ds">——</span> 适用<span class="l" style="letter-spacing:-0.12px">0.8T</span> ～<span class="l" style="letter-spacing:-0.16px">10T</span> 挖掘机</h2>
<h3>产品解决方案</h3>
<ul class="pl" style="left:1073px;top:111px;font-size:16px">
<li><span class="l" style="letter-spacing:0.12px">HP6V28/65/105</span><span class="pl">（</span>行走泵<span class="pr">）</span><span class="x">×</span><span class="l">1</span></li>
<li><span class="l" style="letter-spacing:0.24px">HM5X18/23/27/45</span><span class="pl">（</span>回转马达减速机总成<span class="pr">）</span><span class="x">×</span><span class="l">1</span></li>
<li><span class="l" style="letter-spacing:0.25px">HM4V11/21/22</span><span class="pl">（</span>行走马达<span class="pr">）</span><span class="x">×</span><span class="l">1</span></li>
<li><span class="l" style="letter-spacing:-0.28px">HCW/HCG/HDL</span><span class="pl">（</span>行走马达<span class="pr">）</span><span class="x">×</span><span class="l">1</span></li>
<li><span class="l" style="letter-spacing:-0.17px">HCL/HSP</span><span class="pl">（</span>回转马达<span class="pr">）</span><span class="x">×</span><span class="l">1</span></li>
<li><span class="l" style="letter-spacing:0.10px">HVSE04/09/12/18/EHV09/18</span><span class="pl">（</span> 工作主阀 <span class="pr">）</span><span class="x">×</span><span class="l">1</span></li>
</ul>
<ul class="pl" style="left:1477px;top:112px;font-size:16.15px">
<li><span class="l" style="letter-spacing:-0.56px">MHSTE5G(</span>先导油源阀组<span class="l" style="letter-spacing:0.09px">)</span><span class="x">×</span><span class="l">1</span></li>
<li><span class="l" style="letter-spacing:-0.34px">PPRV-05(</span>比例减压阀<span class="l" style="letter-spacing:0.09px">)</span><span class="x">×</span><span class="l">1</span></li>
<li><span class="l" style="letter-spacing:-0.70px">YDVH3(</span>先导手柄<span class="l" style="letter-spacing:0.09px">)</span><span class="x">×</span><span class="l">2</span></li>
<li><span class="l" style="letter-spacing:-0.37px">PVH1(</span>先导脚踏<span class="l" style="letter-spacing:0.09px">)</span><span class="x">×</span><span class="l" style="letter-spacing:0.20px">1/PVH2/3(</span>迷你挖脚踏<span class="l" style="letter-spacing:0.09px">)</span><span class="x">×</span><span class="l">1</span></li>
<li><span class="l" style="letter-spacing:-0.04px">HPA080/HPA100</span><span class="pl">（</span>电动缸<span class="pr">）</span><span class="x">×</span><span class="l">1</span></li>
<li>整套液压油缸</li>
</ul>

<div id="labels">
<div class="t w" style="right:1707.0px;top:289.5px"><span class="l" style="letter-spacing:-0.73px">RVEH1</span></div>
<div class="t g" style="right:1707.0px;top:310.3px"><span class="d">·</span>电手柄</div>
<div class="t o" style="left:126.0px;top:367.8px"><span class="l" style="letter-spacing:0.35px">Or</span></div>
<div class="t w" style="right:1600.0px;top:392.5px"><span class="l" style="letter-spacing:-0.86px">YDVH1</span></div>
<div class="t g" style="right:1600.0px;top:413.8px"><span class="d">·</span>先导手柄</div>
<div class="t w" style="right:1741.7px;top:497.9px">液压油缸</div>
<div class="t g" style="right:1741.7px;top:518.6px"><span class="d">·</span>执行元件</div>
<div class="t o" style="left:147.0px;top:583.8px"><span class="l" style="letter-spacing:0.35px">Or</span></div>
<div class="t w" style="right:1601.0px;top:618.5px"><span class="l" style="letter-spacing:-0.37px">HPA</span>电动缸</div>
<div class="t g" style="right:1601.0px;top:644.3px"><span class="d">·</span>执行元件</div>
<div class="t w" style="right:1361.3px;top:706.2px"><span class="l" style="letter-spacing:-0.66px">MHSTE5G</span></div>
<div class="t g" style="right:1361.3px;top:726.1px"><span class="d">·</span>先导油源阀组</div>
<div class="t w" style="right:1688.7px;top:845.7px"><span class="l" style="letter-spacing:0.09px">HVSE04/09/12/18</span></div>
<div class="t w" style="right:1688.7px;top:871.2px">流量共享多路阀</div>
<div class="t g" style="right:1688.0px;top:895.7px"><span class="d">·</span>工作主阀</div>
<div class="t o" style="left:105.0px;top:958.6px"><span class="l" style="letter-spacing:0.35px">Or</span></div>
<div class="t w" style="right:1611.2px;top:986.1px"><span class="l" style="letter-spacing:-0.53px">EHV09</span></div>
<div class="t w" style="right:1611.2px;top:1012.5px">流量共享多路阀</div>
<div class="t g" style="right:1611.0px;top:1035.3px"><span class="d">·</span>工作主阀</div>
<div class="t w" style="right:1333.0px;top:1192.1px"><span class="l" style="letter-spacing:-0.53px">HSP</span><span class="pl">（</span>带溢流阀款<span class="pr">）</span></div>
<div class="t w" style="right:1334.3px;top:1211.9px">摆线马达</div>
<div class="t g" style="right:1334.0px;top:1237.0px"><span class="d">·</span>回转马达</div>
<div class="t o" style="left:670.3px;top:1108.4px"><span class="l" style="letter-spacing:0.35px">Or</span></div>
<div class="t w" style="left:815.5px;top:1144.9px"><span class="l" style="letter-spacing:-0.49px">HCL</span></div>
<div class="t w" style="left:815.0px;top:1164.5px">摆线马达</div>
<div class="t g" style="left:815.0px;top:1190.5px"><span class="d">·</span>回转马达</div>
<div class="t w" style="left:1326.0px;top:294.5px"><span class="l" style="letter-spacing:0.24px">HM5X18/23/27/45</span></div>
<div class="t w" style="left:1326.0px;top:320.5px">回转马达</div>
<div class="t g" style="left:1328.0px;top:344.8px"><span class="d">·</span>回转马达减速机总成</div>
<div class="t w" style="left:1643.4px;top:472.0px"><span class="l" style="letter-spacing:0.12px">HP6V28/65/105</span></div>
<div class="t w" style="left:1643.4px;top:490.5px">开式变量柱塞泵</div>
<div class="t g" style="left:1643.0px;top:517.0px"><span class="d">·</span>行走泵</div>
<div class="t w" style="left:1661.4px;top:628.5px"><span class="l" style="letter-spacing:0.25px">HM4V11/21/22</span></div>
<div class="t w" style="left:1661.4px;top:648.5px">柱塞马达</div>
<div class="t g" style="left:1661.5px;top:674.3px"><span class="d">·</span>行走马达</div>
<div class="t w" style="left:1578.0px;top:737.0px"><span class="l" style="letter-spacing:-0.61px">HCW/HCG</span></div>
<div class="t w" style="left:1578.0px;top:756.8px">摆线马达</div>
<div class="t g" style="left:1578.0px;top:781.7px"><span class="d">·</span>行走马达</div>
<div class="t o" style="left:1772.0px;top:762.8px"><span class="l" style="letter-spacing:0.35px">Or</span></div>
<div class="t w" style="left:1643.0px;top:870.0px"><span class="l" style="letter-spacing:-0.22px">HDL</span></div>
<div class="t w" style="left:1643.0px;top:889.5px">摆线马达</div>
<div class="t g" style="left:1643.0px;top:914.7px"><span class="d">·</span>行走马达</div>
<div class="t w" style="left:1323.0px;top:951.1px"><span class="l" style="letter-spacing:-0.40px">PPRV-05</span></div>
<div class="t g" style="left:1323.0px;top:974.3px"><span class="d">·</span>比例减压阀</div>
<div class="t w" style="left:1423.0px;top:1056.0px"><span class="l" style="letter-spacing:-0.48px">PVH1</span></div>
<div class="t g" style="left:1423.0px;top:1077.8px"><span class="d">·</span>先导脚踏</div>
<div class="t o" style="left:1584.0px;top:1082.2px"><span class="l" style="letter-spacing:0.35px">Or</span></div>
<div class="t w" style="left:1574.0px;top:1169.5px"><span class="l">PVH2/3</span></div>
<div class="t g" style="left:1574.0px;top:1193.9px"><span class="d">·</span>迷你挖脚踏</div>
</div>
</div>
</body>
</html>
